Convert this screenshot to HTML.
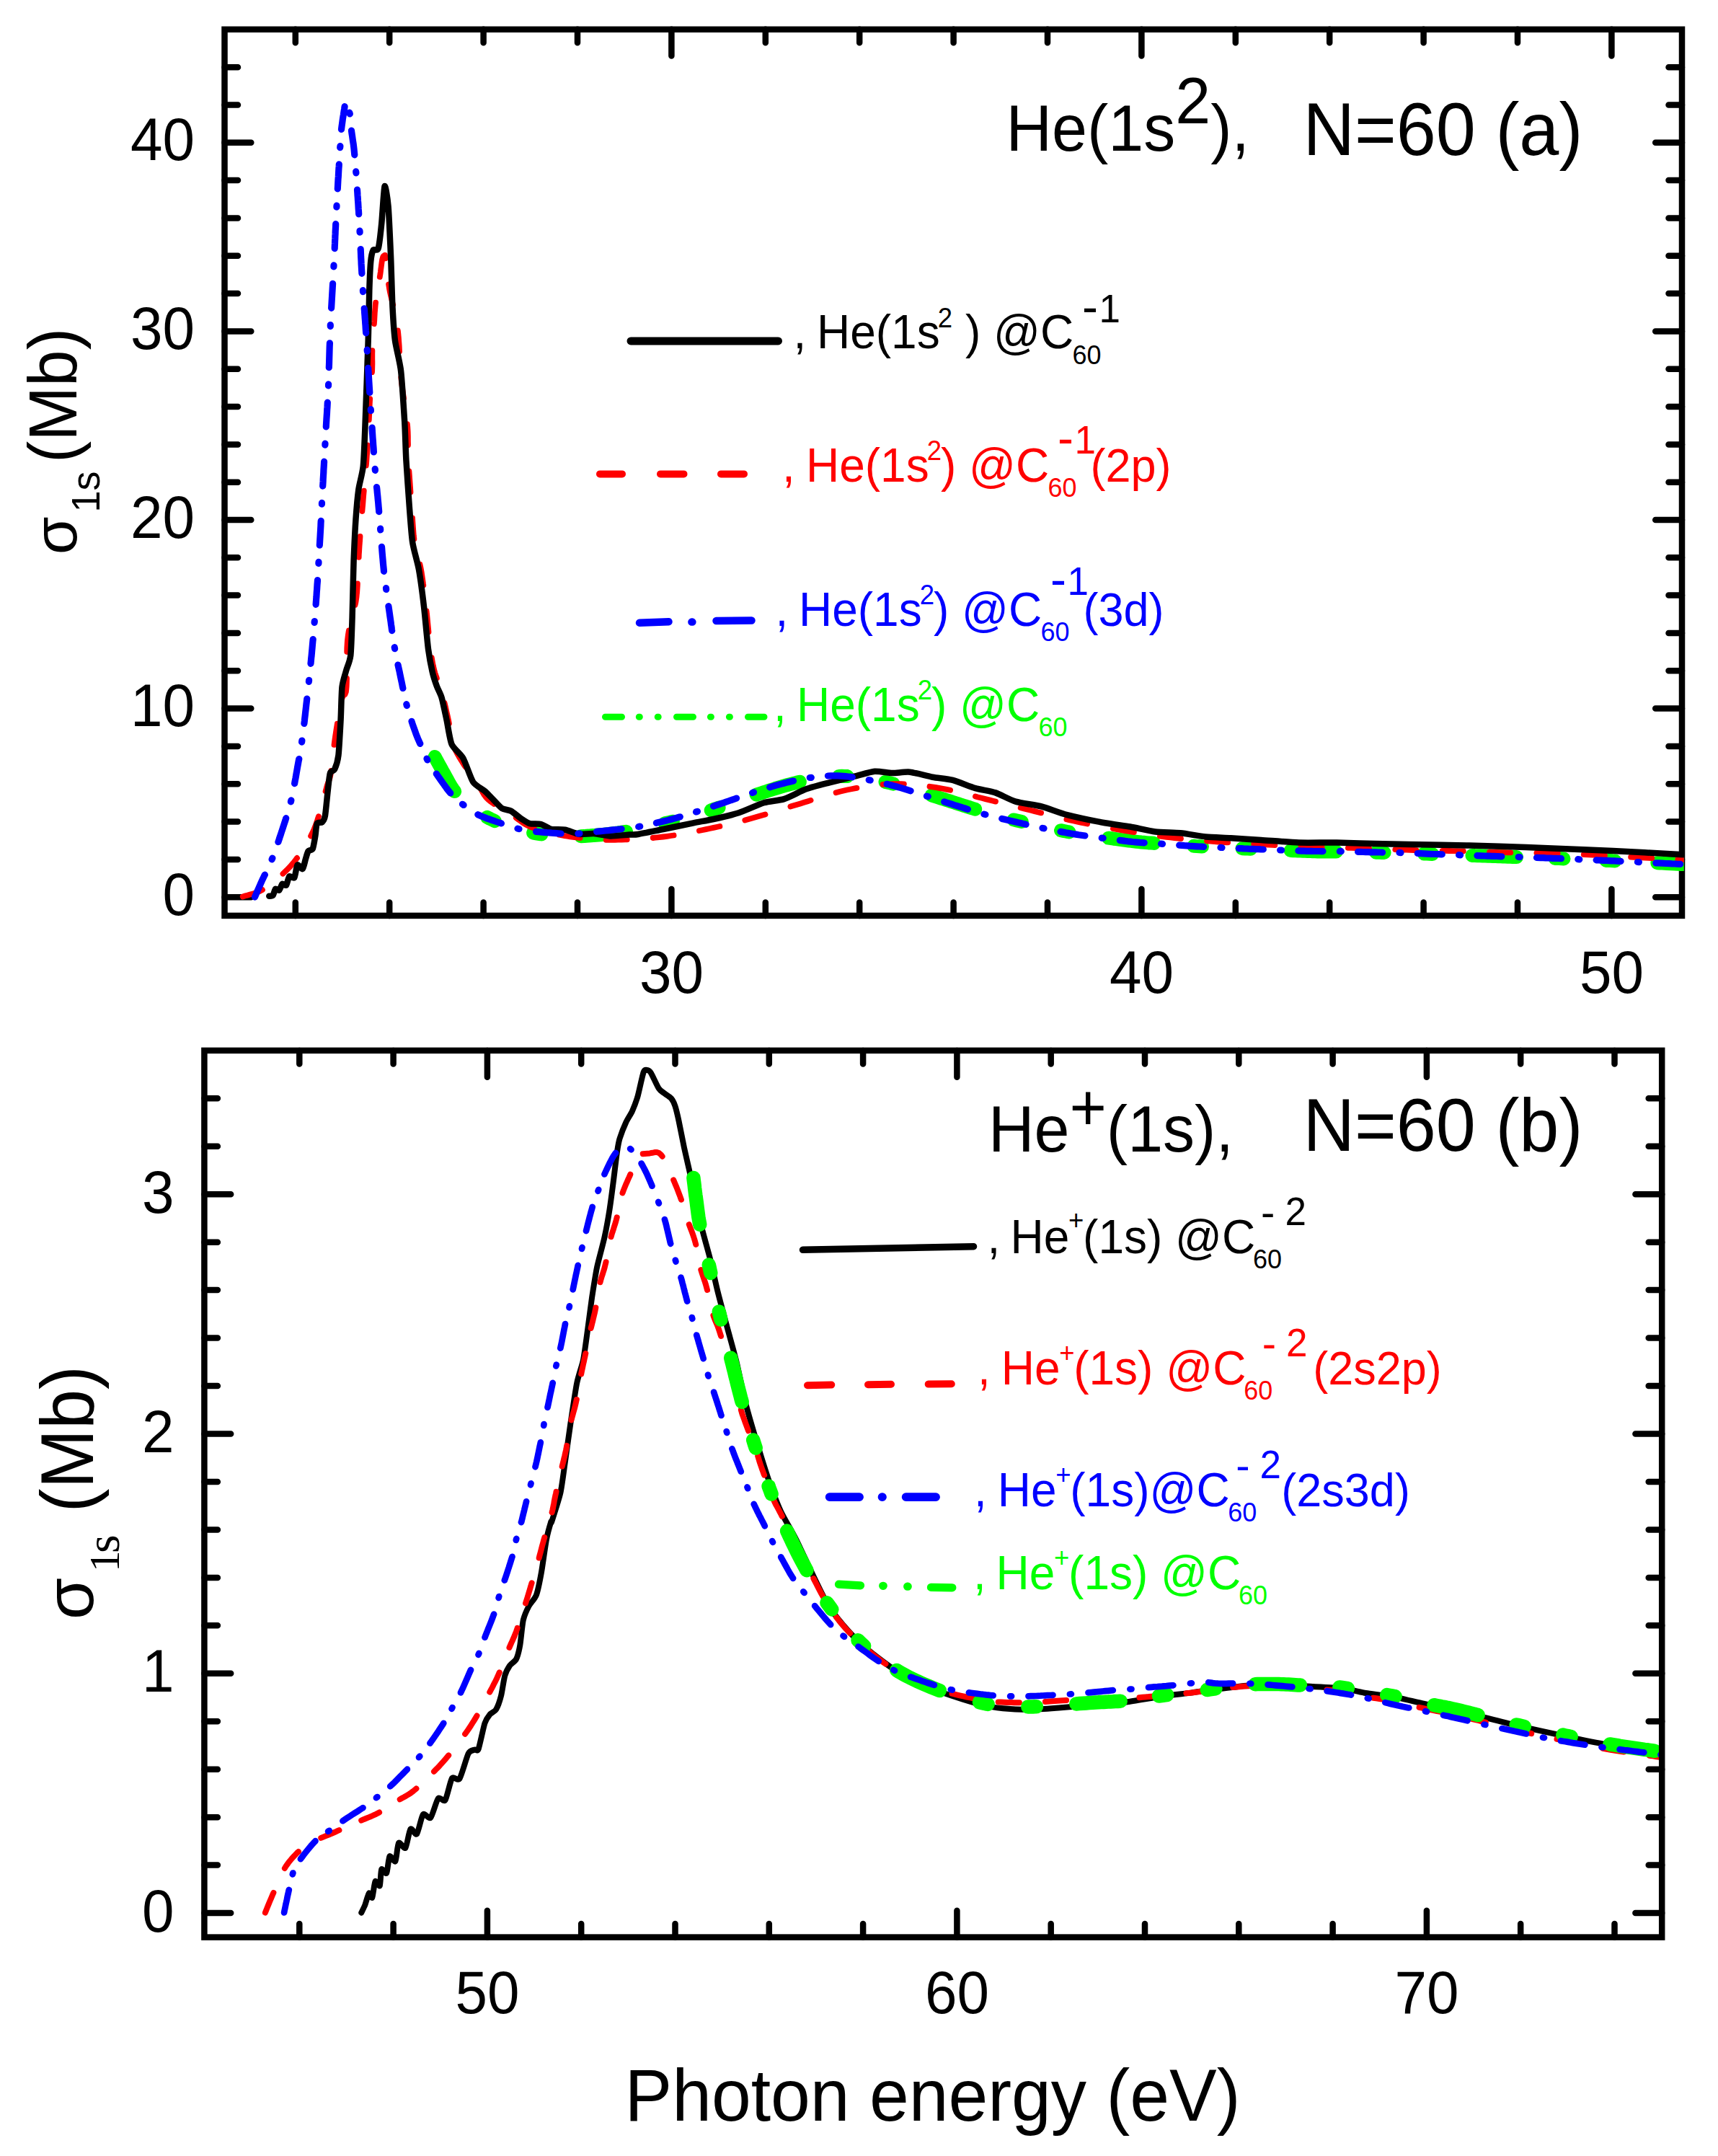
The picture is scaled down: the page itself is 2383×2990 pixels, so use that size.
<!DOCTYPE html>
<html lang="en"><head><meta charset="utf-8"><title>Photoionization cross sections</title>
<style>html,body{margin:0;padding:0;background:#fff}svg{display:block}text{font-family:"Liberation Sans", Arial, sans-serif}</style></head><body>
<svg width="2383" height="2990" viewBox="0 0 2383 2990">
<rect x="0" y="0" width="2383" height="2990" fill="#fff"/>
<defs>
<clipPath id="clipT"><rect x="311.5" y="40.8" width="2024.3" height="1229.1"/></clipPath>
<clipPath id="clipB"><rect x="283.4" y="1456.9" width="2018.6" height="1229.7"/></clipPath>
</defs>
<g stroke="#000" stroke-width="8.5" stroke-linecap="round" fill="none"><path d="M409.8,40.8 v18.5 M409.8,1269.9 v-18.5"/><path d="M540.2,40.8 v18.5 M540.2,1269.9 v-18.5"/><path d="M670.6,40.8 v18.5 M670.6,1269.9 v-18.5"/><path d="M801.0,40.8 v18.5 M801.0,1269.9 v-18.5"/><path d="M931.4,40.8 v36.8 M931.4,1269.9 v-36.8"/><path d="M1061.8,40.8 v18.5 M1061.8,1269.9 v-18.5"/><path d="M1192.2,40.8 v18.5 M1192.2,1269.9 v-18.5"/><path d="M1322.6,40.8 v18.5 M1322.6,1269.9 v-18.5"/><path d="M1453.0,40.8 v18.5 M1453.0,1269.9 v-18.5"/><path d="M1583.4,40.8 v36.8 M1583.4,1269.9 v-36.8"/><path d="M1713.8,40.8 v18.5 M1713.8,1269.9 v-18.5"/><path d="M1844.2,40.8 v18.5 M1844.2,1269.9 v-18.5"/><path d="M1974.6,40.8 v18.5 M1974.6,1269.9 v-18.5"/><path d="M2105.0,40.8 v18.5 M2105.0,1269.9 v-18.5"/><path d="M2235.4,40.8 v36.8 M2235.4,1269.9 v-36.8"/><path d="M311.5,1244.2 h36.8 M2333.0,1244.2 h-36.8"/><path d="M311.5,1191.9 h18.5 M2333.0,1191.9 h-18.5"/><path d="M311.5,1139.6 h18.5 M2333.0,1139.6 h-18.5"/><path d="M311.5,1087.2 h18.5 M2333.0,1087.2 h-18.5"/><path d="M311.5,1034.9 h18.5 M2333.0,1034.9 h-18.5"/><path d="M311.5,982.6 h36.8 M2333.0,982.6 h-36.8"/><path d="M311.5,930.3 h18.5 M2333.0,930.3 h-18.5"/><path d="M311.5,878.0 h18.5 M2333.0,878.0 h-18.5"/><path d="M311.5,825.6 h18.5 M2333.0,825.6 h-18.5"/><path d="M311.5,773.3 h18.5 M2333.0,773.3 h-18.5"/><path d="M311.5,721.0 h36.8 M2333.0,721.0 h-36.8"/><path d="M311.5,668.7 h18.5 M2333.0,668.7 h-18.5"/><path d="M311.5,616.4 h18.5 M2333.0,616.4 h-18.5"/><path d="M311.5,564.0 h18.5 M2333.0,564.0 h-18.5"/><path d="M311.5,511.7 h18.5 M2333.0,511.7 h-18.5"/><path d="M311.5,459.4 h36.8 M2333.0,459.4 h-36.8"/><path d="M311.5,407.1 h18.5 M2333.0,407.1 h-18.5"/><path d="M311.5,354.8 h18.5 M2333.0,354.8 h-18.5"/><path d="M311.5,302.4 h18.5 M2333.0,302.4 h-18.5"/><path d="M311.5,250.1 h18.5 M2333.0,250.1 h-18.5"/><path d="M311.5,197.8 h36.8 M2333.0,197.8 h-36.8"/><path d="M311.5,145.5 h18.5 M2333.0,145.5 h-18.5"/><path d="M311.5,93.2 h18.5 M2333.0,93.2 h-18.5"/></g>
<g stroke="#000" stroke-width="8.5" stroke-linecap="round" fill="none"><path d="M415.3,1456.9 v18.5 M415.3,2686.6 v-18.5"/><path d="M545.6,1456.9 v18.5 M545.6,2686.6 v-18.5"/><path d="M675.9,1456.9 v36.8 M675.9,2686.6 v-36.8"/><path d="M806.2,1456.9 v18.5 M806.2,2686.6 v-18.5"/><path d="M936.5,1456.9 v18.5 M936.5,2686.6 v-18.5"/><path d="M1066.8,1456.9 v18.5 M1066.8,2686.6 v-18.5"/><path d="M1197.1,1456.9 v18.5 M1197.1,2686.6 v-18.5"/><path d="M1327.4,1456.9 v36.8 M1327.4,2686.6 v-36.8"/><path d="M1457.7,1456.9 v18.5 M1457.7,2686.6 v-18.5"/><path d="M1588.0,1456.9 v18.5 M1588.0,2686.6 v-18.5"/><path d="M1718.3,1456.9 v18.5 M1718.3,2686.6 v-18.5"/><path d="M1848.6,1456.9 v18.5 M1848.6,2686.6 v-18.5"/><path d="M1978.9,1456.9 v36.8 M1978.9,2686.6 v-36.8"/><path d="M2109.2,1456.9 v18.5 M2109.2,2686.6 v-18.5"/><path d="M2239.5,1456.9 v18.5 M2239.5,2686.6 v-18.5"/><path d="M283.4,2653.1 h36.8 M2305.2,2653.1 h-36.8"/><path d="M283.4,2586.6 h18.5 M2305.2,2586.6 h-18.5"/><path d="M283.4,2520.2 h18.5 M2305.2,2520.2 h-18.5"/><path d="M283.4,2453.7 h18.5 M2305.2,2453.7 h-18.5"/><path d="M283.4,2387.3 h18.5 M2305.2,2387.3 h-18.5"/><path d="M283.4,2320.8 h36.8 M2305.2,2320.8 h-36.8"/><path d="M283.4,2254.3 h18.5 M2305.2,2254.3 h-18.5"/><path d="M283.4,2187.9 h18.5 M2305.2,2187.9 h-18.5"/><path d="M283.4,2121.4 h18.5 M2305.2,2121.4 h-18.5"/><path d="M283.4,2055.0 h18.5 M2305.2,2055.0 h-18.5"/><path d="M283.4,1988.5 h36.8 M2305.2,1988.5 h-36.8"/><path d="M283.4,1922.0 h18.5 M2305.2,1922.0 h-18.5"/><path d="M283.4,1855.6 h18.5 M2305.2,1855.6 h-18.5"/><path d="M283.4,1789.1 h18.5 M2305.2,1789.1 h-18.5"/><path d="M283.4,1722.7 h18.5 M2305.2,1722.7 h-18.5"/><path d="M283.4,1656.2 h36.8 M2305.2,1656.2 h-36.8"/><path d="M283.4,1589.7 h18.5 M2305.2,1589.7 h-18.5"/><path d="M283.4,1523.3 h18.5 M2305.2,1523.3 h-18.5"/></g>
<rect x="311.5" y="40.8" width="2021.5" height="1229.1" fill="none" stroke="#000" stroke-width="8.5"/>
<g clip-path="url(#clipT)">
<path d="M603.1,1049.5 L604.9,1052.9 L606.4,1055.6 L608.1,1058.7 L609.9,1062.0 L611.8,1065.4 L613.6,1068.8 L615.4,1072.0 L617.1,1075.0 L618.7,1078.0 L620.4,1081.0 L622.0,1084.0 L623.7,1087.1 L625.4,1090.0 L627.3,1092.9 L629.3,1095.8 L630.7,1097.6 M675.7,1133.4 L679.7,1135.5 L682.4,1136.8 L686.3,1138.6 M739.6,1155.1 L743.8,1155.8 L746.9,1156.3 L750.2,1156.8 L751.0,1156.9 M805.8,1159.8 L810.3,1159.6 L813.6,1159.3 L816.8,1159.1 L820.1,1158.8 L823.4,1158.6 L826.7,1158.3 L830.0,1158.0 L833.4,1157.7 L836.8,1157.4 L840.3,1157.0 L843.8,1156.6 L847.2,1156.2 L850.7,1155.8 L854.1,1155.3 L857.5,1154.9 L860.8,1154.4 L864.0,1153.9 L867.1,1153.5 L868.5,1153.2 M922.2,1141.8 L925.6,1141.0 L928.9,1140.3 L932.2,1139.5 L933.4,1139.2 M986.2,1123.7 L990.4,1122.3 L993.8,1121.2 L997.1,1120.1 M1049.1,1102.1 L1052.5,1101.0 L1055.8,1099.9 L1059.1,1098.8 L1062.5,1097.7 L1065.8,1096.6 L1069.2,1095.5 L1072.5,1094.5 L1075.9,1093.4 L1079.2,1092.4 L1082.6,1091.4 L1085.9,1090.4 L1089.3,1089.4 L1092.6,1088.5 L1096.0,1087.6 L1099.4,1086.7 L1102.7,1085.9 L1106.1,1085.0 L1109.4,1084.2 L1109.4,1084.2 M1163.8,1076.4 L1167.8,1076.3 L1171.2,1076.4 L1174.6,1076.4 L1175.1,1076.5 M1228.0,1084.4 L1231.8,1085.3 L1235.2,1086.1 L1238.5,1086.9 L1239.1,1087.1 M1292.2,1102.9 L1295.2,1103.9 L1298.4,1104.9 L1301.7,1106.0 L1305.1,1107.1 L1308.4,1108.1 L1311.7,1109.2 L1315.1,1110.3 L1318.5,1111.4 L1321.9,1112.5 L1325.2,1113.6 L1328.6,1114.6 L1332.0,1115.7 L1335.3,1116.8 L1338.7,1117.8 L1342.0,1118.9 L1345.3,1119.9 L1348.6,1121.0 L1352.0,1122.0 L1352.7,1122.3 M1406.1,1136.9 L1410.5,1138.0 L1413.9,1138.8 L1417.3,1139.6 L1417.4,1139.6 M1471.5,1151.7 L1474.7,1152.3 L1478.2,1153.0 L1481.7,1153.7 L1482.9,1153.9 M1537.7,1162.2 L1541.2,1162.7 L1544.7,1163.2 L1548.2,1163.6 L1551.7,1164.1 L1555.2,1164.6 L1558.7,1165.1 L1562.3,1165.5 L1565.8,1166.0 L1569.3,1166.4 L1572.7,1166.9 L1576.2,1167.3 L1579.7,1167.6 L1583.1,1168.0 L1586.5,1168.3 L1589.9,1168.6 L1593.2,1168.9 L1596.6,1169.1 L1599.9,1169.3 L1600.7,1169.4 M1655.9,1173.3 L1660.0,1173.6 L1663.5,1173.8 L1666.9,1174.0 L1667.5,1174.0 M1723.0,1176.7 L1727.2,1176.9 L1730.6,1177.1 L1733.9,1177.2 L1734.7,1177.3 M1790.2,1179.6 L1793.6,1179.7 L1797.0,1179.8 L1800.4,1180.0 L1803.8,1180.1 L1807.2,1180.2 L1810.5,1180.3 L1813.9,1180.5 L1817.3,1180.6 L1820.7,1180.7 L1824.1,1180.8 L1827.6,1180.9 L1831.0,1180.9 L1834.5,1181.0 L1838.0,1181.0 L1841.5,1181.0 L1845.0,1181.1 L1848.5,1181.1 L1852.0,1181.1 L1853.4,1181.1 M1908.6,1182.2 L1913.2,1182.3 L1916.6,1182.4 L1920.0,1182.4 L1920.1,1182.4 M1975.3,1183.9 L1979.0,1184.1 L1982.8,1184.2 L1986.8,1184.4 M2042.0,1186.4 L2045.6,1186.6 L2049.3,1186.7 L2052.9,1186.8 L2056.6,1187.0 L2060.2,1187.1 L2063.9,1187.2 L2067.4,1187.3 L2071.0,1187.5 L2074.5,1187.6 L2077.9,1187.7 L2081.3,1187.8 L2084.7,1187.9 L2088.1,1188.0 L2091.5,1188.2 L2094.8,1188.3 L2098.2,1188.4 L2101.6,1188.5 L2103.5,1188.6 M2157.2,1190.4 L2162.9,1190.6 L2166.3,1190.8 L2169.0,1190.9 M2227.8,1193.4 L2233.3,1193.6 L2236.8,1193.8 L2240.1,1193.9 M2298.8,1196.8 L2302.3,1197.0 L2305.6,1197.1 L2308.8,1197.3 L2311.9,1197.4 L2317.7,1197.7 L2323.0,1198.0 L2327.5,1198.2 L2331.4,1198.4 L2334.9,1198.5 L2337.9,1198.7 L2341.7,1198.8 L2344.7,1198.9 L2347.8,1199.0 L2350.9,1199.2 L2352.0,1199.2" fill="none" stroke="#00ff00" stroke-width="19.0" stroke-linecap="round" stroke-linejoin="round"/>
<path d="M336.7,1243.4 L340.4,1242.3 L343.5,1241.6 L346.9,1240.6 L350.6,1239.6 L354.4,1238.3 L358.2,1236.9 L361.8,1235.2 L364.0,1234.0 M392.4,1211.7 L394.7,1209.5 L397.2,1207.2 L399.6,1204.8 L402.0,1202.3 L404.3,1199.7 L406.7,1196.9 L409.2,1193.8 L411.7,1190.3 L412.0,1190.0 M431.1,1159.4 L432.8,1156.0 L434.3,1152.9 L435.6,1150.0 L436.8,1147.1 L437.9,1144.2 L439.0,1141.0 L440.2,1137.5 L441.5,1133.4 L441.9,1132.2 M451.6,1097.2 L452.5,1094.0 L453.3,1091.0 L454.4,1087.4 L455.5,1084.2 L456.7,1081.3 L457.7,1078.2 L458.5,1074.7 L459.1,1070.8 L459.4,1069.0 M463.5,1032.9 L463.9,1029.8 L464.5,1025.4 L465.1,1021.1 L465.8,1016.6 L466.5,1011.8 L467.3,1006.9 L467.8,1003.8 M474.5,968.1 L475.9,964.9 L478.5,963.0 L479.9,959.5 L480.4,955.4 L480.7,951.6 L480.9,946.9 L481.0,941.7 L481.0,940.6 M481.2,904.0 L481.3,898.6 L481.6,893.2 L481.9,888.5 L482.4,884.3 L482.9,880.3 L483.5,876.6 L483.9,874.5 M492.6,838.9 L493.4,835.4 L493.9,832.1 L494.5,828.1 L494.8,824.8 L495.2,821.0 L495.5,816.7 L495.8,811.9 L495.9,809.5 M497.7,772.9 L497.8,769.3 L498.2,763.6 L498.5,758.1 L498.9,752.7 L499.3,747.3 L499.5,743.9 M502.4,709.0 L502.8,704.2 L503.3,698.8 L503.7,693.5 L504.1,688.1 L504.6,682.7 L504.8,680.7 M507.8,645.7 L508.1,642.4 L508.5,637.3 L508.8,632.4 L509.2,627.6 L509.5,622.9 L509.8,618.2 L509.8,617.4 M511.8,582.3 L512.0,578.1 L512.2,574.4 L512.3,570.5 L512.4,567.4 L512.6,563.6 L512.8,559.9 L513.0,556.3 L513.2,553.2 M516.0,516.2 L516.2,512.9 L516.3,508.7 L516.4,504.9 L516.4,501.2 L516.3,497.7 L516.3,494.2 L516.3,490.6 L516.4,486.8 L516.4,486.2 M518.9,449.1 L519.2,445.2 L519.4,441.5 L519.6,437.8 L519.8,434.2 L520.1,430.5 L520.4,426.9 L520.7,423.0 L521.1,419.6 M526.8,384.0 L527.4,380.4 L527.9,376.7 L528.3,373.1 L528.8,369.7 L529.2,366.6 L529.7,362.8 L530.2,359.7 L531.1,356.5 L531.8,355.3" fill="none" stroke="#ff0000" stroke-width="7.8" stroke-linecap="round" stroke-linejoin="round"/>
<path d="M534.0,354.0 L534.4,357.6 L534.5,358.4 M539.1,394.3 L539.7,398.2 L540.3,401.8 L541.0,405.4 L541.8,408.9 L542.6,412.4 L543.4,415.9 L544.2,419.3 L545.0,422.7 L545.1,422.8 M551.8,458.3 L552.2,461.5 L552.6,465.6 L552.9,468.6 L553.1,471.9 L553.4,475.6 L553.7,479.5 L553.9,483.6 L554.1,487.4 M556.3,523.4 L556.7,527.3 L557.1,530.8 L557.5,534.3 L558.0,537.7 L558.4,541.0 L558.9,544.3 L559.3,547.5 L559.7,550.7 L560.0,552.4 M564.9,588.1 L565.3,592.0 L565.5,595.2 L565.7,598.5 L565.8,601.8 L565.9,605.2 L565.9,608.6 L565.9,612.1 L566.0,615.7 L566.0,617.3 M567.4,653.3 L567.8,658.4 L568.2,664.0 L568.6,669.6 L569.0,675.3 L569.4,681.0 L569.5,682.5 M572.1,718.5 L572.3,722.3 L572.6,726.5 L572.9,730.7 L573.2,734.7 L573.5,738.7 L573.8,742.6 L574.3,746.4 L574.4,747.6 M582.5,782.7 L583.3,786.4 L584.0,790.0 L584.7,793.8 L585.3,797.8 L585.9,801.9 L586.5,806.1 L587.1,810.4 L587.3,811.5 M591.6,847.4 L592.1,851.6 L592.6,856.7 L593.1,861.9 L593.6,867.1 L594.1,872.2 L594.5,876.4 M598.8,912.2 L599.4,915.6 L600.1,919.4 L600.8,923.0 L601.6,926.4 L602.4,929.7 L603.3,933.1 L604.3,936.2 L605.6,939.7 L605.9,940.5 M616.6,974.9 L617.4,978.1 L618.2,981.7 L619.0,985.3 L619.8,988.8 L620.6,992.2 L621.3,995.4 L622.0,998.5 L622.6,1001.7 L622.9,1003.4 M630.8,1038.5 L632.3,1041.5 L634.0,1044.7 L635.8,1047.8 L637.3,1050.5 L639.1,1053.4 L641.0,1056.4 L642.9,1059.5 L644.9,1062.5 L645.7,1063.6 M666.4,1093.2 L668.0,1096.2 L669.8,1099.5 L671.9,1102.8 L674.1,1105.8 L676.8,1108.5 L679.8,1111.1 L682.3,1112.9 L684.9,1114.6 L685.2,1114.9 M715.8,1134.1 L718.7,1136.3 L721.3,1138.2 L723.9,1140.1 L726.6,1141.9 L729.4,1143.6 L732.2,1145.1 L735.0,1146.5 L737.9,1147.6 L740.8,1148.6 L740.9,1148.6 M775.8,1157.7 L779.6,1158.5 L783.2,1159.1 L787.0,1159.7 L790.8,1160.3 L794.8,1160.9 L798.9,1161.4 L803.2,1161.9 L804.7,1162.0 M840.7,1164.8 L845.2,1164.9 L849.0,1164.9 L853.1,1164.8 L857.5,1164.7 L862.2,1164.6 L867.2,1164.4 L869.8,1164.3 M905.7,1162.0 L908.9,1161.7 L914.4,1161.1 L919.9,1160.5 L925.3,1159.8 L930.7,1159.0 L934.6,1158.5 M969.9,1152.0 L973.8,1151.2 L979.2,1150.1 L984.5,1149.0 L989.8,1147.9 L995.1,1146.7 L998.4,1146.0 M1033.3,1137.4 L1036.8,1136.4 L1042.1,1135.0 L1047.3,1133.6 L1052.5,1132.1 L1057.8,1130.6 L1061.5,1129.5 M1096.4,1118.6 L1099.7,1117.6 L1105.0,1116.0 L1110.2,1114.4 L1115.4,1112.8 L1120.6,1111.2 L1124.6,1109.9 M1159.6,1099.2 L1165.1,1097.7 L1170.4,1096.5 L1175.8,1095.3 L1181.2,1094.2 L1186.7,1093.2 L1188.4,1092.9 M1224.6,1087.9 L1228.4,1087.6 L1233.9,1087.3 L1239.4,1087.1 L1244.8,1087.1 L1250.3,1087.1 L1253.9,1087.3 M1289.5,1090.8 L1293.4,1091.4 L1298.7,1092.2 L1304.0,1093.1 L1309.3,1094.0 L1314.6,1095.1 L1318.1,1095.8 M1352.9,1104.5 L1356.4,1105.5 L1361.7,1106.8 L1366.9,1108.1 L1372.1,1109.4 L1377.4,1110.7 L1381.0,1111.6 M1415.7,1120.3 L1419.3,1121.2 L1424.5,1122.5 L1429.8,1123.8 L1435.1,1125.1 L1440.4,1126.5 L1444.1,1127.4 M1479.4,1136.3 L1482.9,1137.1 L1488.2,1138.3 L1493.6,1139.5 L1499.0,1140.7 L1504.4,1141.8 L1508.1,1142.5 M1543.9,1149.2 L1548.0,1149.9 L1553.5,1150.9 L1558.9,1151.8 L1564.3,1152.7 L1569.7,1153.6 L1572.9,1154.1 M1608.9,1159.6 L1612.6,1160.1 L1618.1,1160.8 L1623.5,1161.5 L1629.0,1162.1 L1634.5,1162.7 L1638.0,1163.1 M1674.0,1166.3 L1678.9,1166.7 L1684.4,1167.1 L1689.9,1167.5 L1695.3,1167.9 L1700.8,1168.3 L1703.2,1168.4 M1739.2,1170.5 L1743.8,1170.7 L1749.1,1171.0 L1754.5,1171.3 L1759.9,1171.6 L1765.2,1171.9 L1768.4,1172.1 M1804.5,1173.9 L1808.2,1174.1 L1813.7,1174.3 L1819.1,1174.5 L1824.6,1174.7 L1830.1,1174.9 L1833.7,1175.0 M1869.9,1175.8 L1874.5,1175.9 L1880.0,1176.0 L1885.5,1176.2 L1891.0,1176.4 L1896.4,1176.6 L1899.1,1176.7 M1935.3,1178.2 L1939.8,1178.3 L1945.2,1178.5 L1950.6,1178.7 L1956.0,1178.9 L1961.4,1179.0 L1964.5,1179.1 M2000.7,1179.8 L2004.5,1179.8 L2009.9,1180.0 L2015.3,1180.1 L2020.7,1180.2 L2026.1,1180.4 L2029.9,1180.5 M2066.1,1181.7 L2069.1,1181.8 L2074.5,1182.0 L2079.9,1182.1 L2085.3,1182.2 L2090.7,1182.3 L2095.3,1182.4 M2131.4,1182.9 L2136.4,1183.0 L2141.9,1183.1 L2147.3,1183.3 L2152.8,1183.4 L2158.3,1183.6 L2160.7,1183.7 M2196.8,1185.1 L2202.4,1185.3 L2207.9,1185.6 L2213.5,1185.8 L2219.0,1186.1 L2224.7,1186.4 L2226.0,1186.5 M2262.1,1188.6 L2266.4,1188.8 L2271.6,1189.1 L2276.7,1189.4 L2281.7,1189.7 L2286.8,1189.9 L2291.3,1190.1 M2327.3,1191.8 L2331.4,1192.0 L2334.4,1192.1 L2337.4,1192.3 L2340.0,1192.4" fill="none" stroke="#ff0000" stroke-width="7.8" stroke-linecap="round" stroke-linejoin="round"/>
<path d="M373.3,1242.7 C373.9,1242.6 377.6,1242.7 378.6,1241.6 C379.6,1240.5 381.1,1233.7 382.1,1232.9 C383.1,1232.1 386.2,1235.4 387.3,1234.6 C388.4,1233.8 390.4,1226.7 391.5,1225.9 C392.6,1225.1 396.0,1228.8 397.1,1227.6 C398.2,1226.4 400.0,1216.6 401.3,1215.4 C402.6,1214.2 407.0,1219.0 408.3,1217.2 C409.6,1215.4 411.2,1201.1 412.5,1199.7 C413.8,1198.3 418.5,1206.0 419.8,1205.0 C421.1,1204.0 423.1,1193.9 424.0,1191.0 C424.9,1188.1 426.4,1182.1 427.5,1180.5 C428.6,1178.9 432.7,1179.5 433.8,1177.0 C434.9,1174.5 436.6,1163.6 437.3,1159.5 C438.0,1155.4 438.6,1144.3 439.7,1142.1 C440.8,1139.9 445.4,1141.5 446.7,1140.3 C448.0,1139.1 450.0,1136.7 450.9,1131.6 C451.8,1126.5 453.9,1103.6 454.7,1096.7 C455.5,1089.8 456.8,1075.7 457.9,1072.2 C459.0,1068.7 462.8,1069.8 464.1,1067.0 C465.4,1064.2 468.4,1055.8 469.4,1047.8 C470.4,1039.8 472.0,1009.1 472.6,998.0 C473.2,986.9 473.6,960.5 474.5,952.5 C475.4,944.5 479.0,934.3 480.4,929.2 C481.8,924.1 485.3,917.4 486.3,908.9 C487.3,900.4 488.1,871.8 488.6,856.5 C489.1,841.2 490.0,793.9 490.6,777.9 C491.2,761.9 492.7,731.2 493.5,719.7 C494.3,708.2 496.1,687.5 497.3,679.0 C498.5,670.5 502.6,657.3 503.7,646.9 C504.8,636.5 505.7,610.3 506.5,590.0 C507.3,569.7 510.0,494.4 510.7,472.5 C511.4,450.6 511.9,415.5 512.3,402.7 C512.7,389.9 513.6,369.6 514.2,363.1 C514.8,356.6 516.5,349.0 517.7,346.8 C518.9,344.6 523.3,348.9 524.7,344.5 C526.1,340.1 528.3,319.6 529.3,309.5 C530.3,299.4 532.4,261.0 533.5,258.3 C534.6,255.6 537.6,274.9 538.6,286.3 C539.6,297.7 541.4,339.8 542.1,356.1 C542.8,372.4 543.8,412.4 544.5,426.0 C545.2,439.6 546.6,462.2 548.0,472.5 C549.4,482.8 554.6,501.3 556.1,514.4 C557.6,527.5 560.3,570.6 561.2,585.0 C562.1,599.4 562.6,624.5 563.4,638.2 C564.2,651.9 566.8,689.0 567.8,702.2 C568.8,715.4 570.6,741.5 572.1,751.7 C573.6,761.9 579.0,779.0 580.9,789.5 C582.8,800.0 586.6,829.0 588.1,841.9 C589.6,854.8 592.6,889.6 594.0,900.1 C595.4,910.6 598.4,926.1 599.8,932.2 C601.2,938.3 604.5,947.9 606.0,952.0 C607.5,956.1 611.0,962.0 612.6,967.5 C614.2,973.0 618.0,991.4 619.6,998.9 C621.2,1006.4 623.9,1026.0 626.5,1032.1 C629.1,1038.2 638.8,1045.2 642.3,1051.3 C645.8,1057.4 652.7,1079.2 656.2,1084.5 C659.7,1089.8 668.7,1093.9 672.0,1096.7 C675.3,1099.5 681.4,1106.1 684.2,1108.9 C687.0,1111.7 693.6,1119.3 696.4,1121.1 C699.2,1122.9 705.5,1123.0 708.6,1124.6 C711.7,1126.2 719.5,1133.1 722.6,1135.1 C725.7,1137.1 731.5,1141.2 734.8,1142.1 C738.1,1143.0 747.0,1142.2 750.5,1143.1 C754.0,1144.0 760.6,1148.9 764.5,1149.8 C768.4,1150.7 779.2,1150.0 783.7,1150.8 C788.2,1151.6 798.2,1156.2 802.9,1156.8 C807.6,1157.4 818.8,1155.8 823.9,1156.1 C829.0,1156.4 840.9,1159.3 846.6,1159.5 C852.3,1159.7 868.3,1157.8 872.8,1157.5 C877.3,1157.2 879.4,1157.9 884.9,1157.0 C890.4,1156.1 910.9,1151.8 919.9,1150.0 C928.9,1148.2 953.7,1142.9 961.8,1141.3 C969.9,1139.7 982.4,1137.6 989.7,1136.0 C997.0,1134.4 1016.4,1129.9 1024.6,1127.3 C1032.8,1124.7 1052.3,1115.5 1059.6,1113.3 C1066.9,1111.1 1080.6,1110.3 1087.5,1108.1 C1094.4,1105.9 1111.6,1096.7 1118.9,1094.1 C1126.2,1091.5 1142.7,1087.4 1150.4,1085.4 C1158.1,1083.4 1178.0,1078.5 1185.3,1076.7 C1192.6,1074.9 1207.1,1070.2 1213.2,1069.7 C1219.3,1069.2 1232.0,1072.0 1237.7,1072.1 C1243.4,1072.2 1255.6,1070.0 1262.1,1070.7 C1268.6,1071.4 1286.6,1076.4 1293.5,1077.7 C1300.4,1079.0 1314.6,1080.1 1321.5,1081.9 C1328.4,1083.7 1346.0,1091.1 1352.9,1093.1 C1359.8,1095.1 1374.4,1097.2 1380.9,1099.4 C1387.4,1101.6 1401.3,1109.4 1408.8,1111.6 C1416.3,1113.8 1437.1,1116.4 1445.4,1118.6 C1453.7,1120.8 1470.1,1127.5 1480.3,1130.1 C1490.5,1132.7 1522.5,1139.4 1532.7,1141.3 C1542.9,1143.2 1559.4,1145.1 1567.6,1146.5 C1575.8,1147.9 1594.4,1152.5 1602.6,1153.5 C1610.8,1154.5 1629.4,1154.5 1637.5,1155.3 C1645.6,1156.1 1664.3,1159.7 1672.4,1160.5 C1680.5,1161.3 1698.3,1161.7 1707.3,1162.2 C1716.3,1162.7 1738.2,1164.3 1749.2,1165.0 C1760.2,1165.7 1789.4,1168.1 1801.6,1168.5 C1813.8,1168.9 1841.8,1168.3 1854.0,1168.5 C1866.2,1168.7 1889.6,1169.6 1906.4,1170.0 C1923.2,1170.4 1978.2,1171.3 1998.4,1171.7 C2018.6,1172.1 2061.9,1173.1 2079.9,1173.7 C2097.9,1174.3 2134.6,1175.8 2153.0,1176.5 C2171.4,1177.2 2216.7,1179.1 2237.4,1180.1 C2258.1,1181.1 2318.1,1184.3 2330.1,1184.9 C2342.1,1185.5 2338.8,1185.3 2340.0,1185.4" fill="none" stroke="#000" stroke-width="8.5" stroke-linecap="round" stroke-linejoin="round"/>
<path d="M353.5,1244.1 L354.7,1241.2 L356.2,1237.7 L357.5,1234.7 L358.9,1231.5 L360.4,1228.1 L361.9,1224.7 L363.4,1221.3 L365.1,1217.8 L366.8,1214.1 L367.4,1213.1 M377.1,1191.9 L377.9,1190.1 M385.9,1167.7 L387.0,1164.5 L388.1,1161.0 L389.3,1157.6 L390.4,1154.2 L391.5,1150.8 L392.6,1147.5 L393.7,1144.1 L394.8,1140.8 L395.9,1137.5 L396.7,1134.7 M403.4,1111.9 L403.9,1109.9 M408.6,1086.6 L409.3,1082.6 L410.0,1079.1 L410.6,1075.6 L411.2,1072.1 L411.8,1068.7 L412.4,1065.3 L413.0,1061.9 L413.6,1058.6 L414.2,1055.3 L414.8,1052.5 M418.6,1029.1 L418.9,1027.0 M421.9,1003.5 L422.3,1000.3 L422.7,996.4 L423.2,992.1 L423.7,987.4 L424.3,982.3 L424.9,976.7 L425.6,970.8 L425.8,969.0 M428.4,945.4 L428.6,943.3 M431.0,920.3 L431.4,916.2 L431.7,912.8 L432.1,909.4 L432.4,906.0 L432.7,902.7 L433.0,899.3 L433.3,895.9 L433.6,892.6 L433.9,889.2 L434.2,886.6 M436.1,863.4 L436.3,861.5 M438.1,838.3 L438.4,834.7 L438.6,831.3 L438.9,827.9 L439.1,824.5 L439.3,821.1 L439.6,817.7 L439.8,814.3 L440.0,810.9 L440.3,807.5 L440.5,804.5 M441.9,781.4 L442.0,779.4 M443.3,756.2 L443.5,753.2 L443.7,749.8 L443.9,746.4 L444.1,743.0 L444.3,739.6 L444.5,736.2 L444.7,732.8 L444.9,729.3 L445.0,725.9 L445.2,722.4 M446.4,699.2 L446.5,697.3 M447.7,674.1 L448.1,668.0 L448.2,664.7 L448.4,661.5 L448.6,658.3 L448.8,655.1 L448.9,651.9 L449.1,648.7 L449.3,645.5 L449.5,642.3 L449.6,640.2 M450.9,617.1 L451.0,615.1 M452.3,591.9 L452.6,586.4 L452.9,581.5 L453.2,576.9 L453.5,572.6 L453.7,568.4 L454.0,564.3 L454.2,560.2 L454.3,558.1 M455.5,534.9 L455.6,532.9 M456.3,509.7 L456.5,505.3 L456.6,501.8 L456.7,498.2 L456.8,494.6 L456.9,491.0 L457.0,487.4 L457.1,483.8 L457.2,480.2 L457.4,476.5 L457.4,475.8 M458.3,452.6 L458.3,450.6 M459.6,427.3 L459.8,424.0 L460.0,420.6 L460.2,417.1 L460.4,413.7 L460.6,410.2 L460.8,406.8 L461.0,403.4 L461.2,399.9 L461.4,396.5 L461.6,393.3 M462.9,369.9 L463.0,367.9 M464.2,344.6 L464.3,341.4 L464.5,337.9 L464.6,334.5 L464.8,331.0 L464.9,327.6 L465.1,324.2 L465.2,320.7 L465.4,317.3 L465.6,313.8 L465.7,310.6 M466.9,287.2 L467.0,285.2 M468.3,261.9 L468.6,256.6 L468.8,252.7 L469.0,248.9 L469.3,245.1 L469.5,241.3 L469.7,237.6 L469.9,233.9 L470.2,230.3 L470.3,227.9 M471.7,204.6 L471.9,202.6 M473.5,179.4 L474.0,175.4 L474.6,171.1 L475.0,168.1 L475.4,165.0 L475.9,161.9 L476.4,159.0 L477.0,154.8 L477.6,151.2 L478.1,147.7" fill="none" stroke="#0000ff" stroke-width="9.2" stroke-linecap="round" stroke-linejoin="round"/>
<path d="M484.8,156.1 L485.3,158.0 M487.5,181.1 L488.0,185.2 L488.6,188.8 L489.1,192.6 L489.7,196.7 L490.2,199.7 L490.6,203.0 L491.0,206.6 L491.4,210.7 L491.8,214.8 M493.7,237.9 L493.9,239.9 M495.5,263.1 L495.8,267.2 L496.0,271.0 L496.3,274.7 L496.5,278.5 L496.8,282.2 L497.0,285.9 L497.2,289.6 L497.5,293.2 L497.7,296.7 L497.7,297.0 M499.0,320.2 L499.1,322.2 M500.2,345.5 L500.5,351.9 L500.6,355.3 L500.8,358.8 L501.0,362.2 L501.1,365.7 L501.3,369.1 L501.5,372.6 L501.7,376.0 L501.9,379.3 M503.4,402.6 L503.5,404.6 M505.2,427.8 L505.5,431.1 L505.7,434.5 L506.0,438.0 L506.2,441.4 L506.5,444.8 L506.7,448.3 L507.0,451.7 L507.2,455.2 L507.4,458.6 L507.7,461.8 M509.2,485.1 L509.3,487.1 M510.7,510.4 L511.1,516.4 L511.3,519.9 L511.5,523.4 L511.7,526.8 L511.9,530.1 L512.1,533.4 L512.3,536.6 L512.5,539.6 L512.8,544.4 M514.3,567.7 L514.4,569.7 M516.1,593.0 L516.4,598.0 L516.7,602.5 L517.0,607.2 L517.4,612.0 L517.7,616.8 L518.1,621.7 L518.4,626.7 L518.4,627.0 M520.2,650.3 L520.4,652.3 M522.5,675.6 L522.9,678.7 L523.3,683.3 L523.8,687.9 L524.2,692.7 L524.7,697.6 L525.1,702.7 L525.6,708.0 L525.7,709.6 M527.6,733.0 L527.7,735.0 M529.5,758.3 L529.8,761.7 L530.0,764.8 L530.5,770.6 L531.0,776.0 L531.4,780.8 L531.8,785.1 L532.2,788.9 L532.5,792.3 L532.5,792.3 M535.5,815.6 L535.7,817.5 M538.9,840.7 L539.6,845.3 L540.1,848.9 L540.6,852.5 L541.1,856.0 L541.6,859.4 L542.1,862.8 L542.5,866.1 L543.0,869.4 L543.4,872.6 L543.7,874.6 M547.2,897.7 L547.6,899.7 M552.0,922.0 L552.7,925.3 L553.5,928.8 L554.3,932.3 L555.0,935.8 L555.7,939.2 L556.4,942.6 L557.1,945.8 L557.8,949.1 L558.4,952.3 L558.9,954.5 M563.8,976.7 L564.3,978.6 M571.0,1000.4 L572.1,1003.8 L573.1,1006.7 L574.6,1010.8 L575.9,1014.6 L577.1,1018.0 L578.3,1020.9 L579.7,1024.5 L581.1,1027.7 L582.5,1030.8 L582.8,1031.4 M592.0,1052.2 L592.9,1054.0 M605.3,1073.1 L607.1,1075.8 L609.4,1079.0 L611.5,1082.0 L613.5,1084.9 L615.5,1087.7 L617.5,1090.4 L619.4,1093.1 L621.3,1095.6 L623.3,1098.1 L624.8,1099.9 M641.5,1115.3 L643.1,1116.5 M662.8,1129.7 L665.7,1131.0 L669.8,1132.8 L672.7,1133.9 L675.8,1135.1 L678.9,1136.2 L682.1,1137.3 L685.3,1138.4 L688.4,1139.5 L691.4,1140.5 L695.4,1141.9 M718.0,1149.1 L720.0,1149.6 M743.5,1153.3 L747.5,1153.7 L752.1,1154.1 L755.3,1154.4 L758.6,1154.7 L762.0,1154.9 L765.3,1155.2 L768.6,1155.4 L771.8,1155.6 L774.8,1155.8 L778.1,1156.0 M801.9,1156.1 L803.9,1155.9 M827.6,1153.3 L831.3,1152.9 L835.4,1152.5 L839.6,1152.0 L844.0,1151.6 L848.3,1151.1 L852.5,1150.7 L856.6,1150.2 L860.5,1149.8 L862.1,1149.6 M885.7,1146.5 L887.7,1146.1 M910.4,1141.3 L913.5,1140.6 L916.9,1139.8 L920.2,1139.0 L923.5,1138.2 L926.7,1137.4 L929.9,1136.5 L933.1,1135.7 L936.2,1134.8 L939.4,1133.9 L942.6,1133.0 L943.3,1132.8 M965.5,1126.0 L967.4,1125.4 M989.5,1118.1 L993.6,1116.7 L997.0,1115.6 L1000.3,1114.4 L1003.7,1113.3 L1007.0,1112.2 L1010.4,1111.0 L1013.7,1109.8 L1017.1,1108.7 L1020.4,1107.5 L1021.6,1107.0 M1043.6,1099.5 L1045.5,1098.8 M1067.7,1091.8 L1070.6,1090.9 L1073.9,1089.9 L1077.3,1088.9 L1080.6,1088.0 L1084.0,1087.1 L1087.4,1086.2 L1090.7,1085.4 L1094.1,1084.5 L1097.4,1083.7 L1100.5,1083.0 M1123.3,1078.5 L1125.3,1078.3 M1148.4,1076.0 L1152.5,1075.9 L1155.8,1075.8 L1159.2,1075.9 L1162.6,1075.9 L1166.0,1076.1 L1169.5,1076.3 L1172.9,1076.6 L1176.4,1077.0 L1180.0,1077.4 L1182.3,1077.8 M1205.2,1081.7 L1207.2,1082.1 M1230.1,1087.3 L1233.2,1088.1 L1236.5,1089.0 L1239.8,1089.9 L1243.1,1090.8 L1246.4,1091.7 L1249.7,1092.6 L1252.9,1093.6 L1256.1,1094.6 L1259.3,1095.6 L1262.4,1096.6 L1263.1,1096.8 M1285.4,1104.1 L1287.3,1104.7 M1309.7,1111.9 L1313.2,1113.1 L1316.6,1114.1 L1320.0,1115.2 L1323.3,1116.3 L1326.7,1117.3 L1330.0,1118.4 L1333.3,1119.4 L1336.6,1120.5 L1340.0,1121.5 L1342.4,1122.3 M1364.9,1129.1 L1366.9,1129.6 M1389.7,1135.4 L1393.2,1136.2 L1396.7,1137.1 L1400.2,1137.9 L1403.6,1138.7 L1407.0,1139.5 L1410.3,1140.3 L1413.6,1141.1 L1416.8,1141.8 L1420.0,1142.6 L1423.1,1143.3 M1446.0,1148.4 L1448.0,1148.8 M1471.0,1153.4 L1475.0,1154.1 L1478.5,1154.8 L1482.0,1155.4 L1485.6,1156.0 L1489.0,1156.6 L1492.5,1157.1 L1496.0,1157.7 L1499.5,1158.2 L1503.0,1158.7 L1504.9,1159.0 M1528.2,1162.1 L1530.2,1162.3 M1553.3,1165.4 L1557.3,1165.9 L1560.7,1166.4 L1564.2,1166.8 L1567.7,1167.1 L1571.1,1167.5 L1574.5,1167.8 L1577.9,1168.1 L1581.2,1168.4 L1584.6,1168.6 L1587.2,1168.8 M1610.5,1170.2 L1612.5,1170.4 M1635.7,1172.2 L1639.2,1172.4 L1642.7,1172.7 L1646.2,1172.9 L1649.7,1173.2 L1653.2,1173.4 L1656.7,1173.6 L1660.2,1173.8 L1663.7,1174.0 L1667.2,1174.2 L1669.7,1174.3 M1693.0,1175.4 L1695.0,1175.5 M1718.3,1176.6 L1721.9,1176.7 L1725.2,1176.9 L1728.6,1177.0 L1731.9,1177.2 L1735.3,1177.3 L1738.7,1177.4 L1742.1,1177.6 L1745.5,1177.7 L1749.0,1177.9 L1752.3,1178.0 M1775.6,1179.0 L1777.6,1179.0 M1800.9,1179.9 L1805.3,1180.1 L1808.7,1180.2 L1812.1,1180.3 L1815.6,1180.4 L1819.0,1180.4 L1822.5,1180.5 L1826.0,1180.5 L1829.5,1180.5 L1833.0,1180.6 L1835.0,1180.6 M1858.3,1180.7 L1860.3,1180.7 M1883.6,1181.3 L1887.4,1181.4 L1890.9,1181.5 L1894.3,1181.6 L1897.8,1181.7 L1901.2,1181.8 L1904.6,1181.9 L1908.0,1181.9 L1911.3,1182.0 L1914.6,1182.0 L1917.6,1182.1 M1941.0,1182.5 L1943.0,1182.6 M1966.3,1183.5 L1970.8,1183.7 L1974.9,1183.9 L1979.4,1184.1 L1984.3,1184.3 L1989.7,1184.5 L1995.7,1184.7 L1998.8,1184.8 L2000.3,1184.9 M2023.6,1185.7 L2025.6,1185.8 M2048.9,1186.6 L2055.4,1186.8 L2059.0,1187.0 L2062.5,1187.1 L2065.9,1187.2 L2069.3,1187.3 L2072.7,1187.4 L2076.1,1187.5 L2079.5,1187.7 L2082.8,1187.8 L2082.9,1187.8 M2106.2,1188.5 L2108.2,1188.6 M2131.5,1189.4 L2137.1,1189.6 L2140.5,1189.7 L2144.0,1189.9 L2147.4,1190.0 L2150.9,1190.1 L2154.3,1190.3 L2157.8,1190.4 L2161.3,1190.5 L2164.8,1190.7 L2165.5,1190.7 M2188.8,1191.7 L2190.8,1191.8 M2214.1,1192.8 L2217.8,1193.0 L2221.3,1193.1 L2224.8,1193.3 L2228.2,1193.4 L2231.7,1193.6 L2235.2,1193.8 L2238.8,1193.9 L2242.4,1194.1 L2246.1,1194.3 L2248.1,1194.4 M2271.4,1195.5 L2273.4,1195.6 M2296.7,1196.8 L2299.9,1196.9 L2305.7,1197.2 L2311.0,1197.5 L2315.5,1197.7 L2319.4,1197.9 L2322.9,1198.0 L2325.9,1198.2 L2329.7,1198.3 L2330.6,1198.4" fill="none" stroke="#0000ff" stroke-width="9.2" stroke-linecap="round" stroke-linejoin="round"/>
</g>
<g clip-path="url(#clipB)">
<path d="M501.3,2652.5 C501.9,2651.2 505.3,2644.5 506.5,2641.3 C507.7,2638.2 510.6,2626.8 511.8,2625.6 C512.9,2624.5 515.3,2633.5 516.3,2631.6 C517.3,2629.6 519.3,2611.1 520.5,2609.2 C521.7,2607.3 525.8,2617.1 526.8,2615.1 C527.8,2613.2 528.1,2594.5 529.2,2592.4 C530.3,2590.4 534.9,2599.8 536.2,2597.7 C537.5,2595.6 539.0,2576.2 540.4,2574.3 C541.8,2572.4 547.0,2583.4 548.4,2581.3 C549.9,2579.1 551.3,2557.9 553.0,2555.8 C554.6,2553.6 560.5,2565.0 562.4,2562.8 C564.3,2560.5 567.5,2538.8 569.4,2536.6 C571.2,2534.3 576.1,2545.9 578.1,2543.5 C580.2,2541.2 584.6,2519.0 586.8,2516.3 C589.1,2513.7 594.9,2523.5 597.3,2520.8 C599.8,2518.2 605.4,2496.8 607.8,2494.0 C610.2,2491.1 615.3,2499.7 617.6,2496.4 C619.8,2493.1 624.7,2469.5 627.0,2466.0 C629.3,2462.5 634.8,2470.7 637.5,2466.7 C640.1,2462.7 647.3,2436.5 649.7,2431.8 C652.2,2427.1 656.8,2427.3 658.4,2426.5 C660.1,2425.8 662.0,2429.8 663.7,2425.5 C665.3,2421.2 670.6,2395.5 672.4,2389.9 C674.2,2384.3 677.6,2379.9 679.4,2377.7 C681.2,2375.4 686.3,2373.7 688.1,2370.7 C690.0,2367.6 693.7,2357.0 695.1,2351.5 C696.5,2346.0 698.9,2328.4 700.4,2323.5 C701.8,2318.6 705.5,2312.2 707.3,2309.5 C709.2,2306.9 714.4,2304.1 716.1,2300.8 C717.7,2297.6 720.2,2287.9 721.3,2281.6 C722.4,2275.3 724.4,2253.0 725.8,2246.7 C727.3,2240.4 731.4,2231.5 733.5,2227.5 C735.6,2223.4 742.0,2217.3 744.0,2211.8 C746.0,2206.3 749.4,2189.3 751.0,2180.3 C752.6,2171.4 756.4,2143.1 758.0,2134.9 C759.5,2126.8 763.4,2113.4 764.3,2110.5 C765.1,2107.6 763.7,2114.8 765.3,2110.1 C766.8,2105.3 775.2,2080.1 777.5,2069.9 C779.7,2059.7 782.8,2034.0 784.5,2022.8 C786.1,2011.6 789.6,1986.1 791.4,1973.9 C793.3,1961.6 798.1,1928.2 800.2,1918.0 C802.2,1907.8 807.3,1894.3 808.9,1886.6 C810.5,1878.8 812.7,1861.8 814.1,1851.6 C815.6,1841.4 819.5,1810.2 821.1,1799.2 C822.8,1788.2 826.1,1767.1 828.1,1757.3 C830.2,1747.6 836.6,1724.8 838.6,1715.4 C840.6,1706.1 844.2,1686.0 845.6,1677.0 C847.0,1668.0 849.6,1648.0 850.8,1638.6 C852.0,1629.2 855.0,1603.6 856.1,1596.7 C857.1,1589.8 858.1,1583.9 859.5,1579.2 C861.0,1574.5 866.2,1561.0 868.3,1556.5 C870.3,1552.0 875.1,1545.1 877.0,1540.8 C878.9,1536.5 882.9,1526.2 884.7,1519.8 C886.5,1513.5 891.1,1490.8 892.7,1486.7 C894.4,1482.5 897.4,1484.0 898.7,1484.2 C899.9,1484.4 901.5,1485.5 903.2,1488.4 C905.0,1491.4 911.6,1506.2 913.7,1509.4 C915.7,1512.6 918.6,1514.0 920.7,1515.7 C922.7,1517.3 929.3,1521.2 931.1,1523.3 C933.0,1525.5 935.2,1530.2 936.4,1533.8 C937.6,1537.5 940.2,1548.3 941.6,1554.8 C943.0,1561.3 946.8,1581.1 948.6,1589.7 C950.4,1598.3 955.3,1619.2 957.3,1628.1 C959.4,1637.1 964.2,1658.0 966.1,1666.5 C967.9,1675.1 970.8,1692.1 973.1,1701.5 C975.3,1710.8 982.6,1736.3 985.3,1746.9 C987.9,1757.5 992.9,1780.9 995.8,1792.3 C998.6,1803.7 1006.7,1833.2 1009.7,1844.6 C1012.8,1856.1 1019.1,1878.2 1021.9,1890.1 C1024.8,1901.9 1031.1,1933.7 1034.2,1945.9 C1037.2,1958.2 1044.5,1982.6 1048.1,1994.8 C1051.8,2007.0 1061.5,2038.9 1065.6,2050.7 C1069.7,2062.5 1078.6,2086.3 1083.1,2096.1 C1087.5,2105.9 1096.4,2119.3 1104.0,2134.5 C1111.7,2149.7 1138.5,2209.6 1148.7,2226.2 C1158.9,2242.8 1180.3,2266.4 1191.5,2277.1 C1202.7,2287.8 1231.2,2309.8 1244.5,2317.9 C1257.8,2326.0 1291.8,2341.1 1305.6,2346.6 C1319.4,2352.0 1352.6,2361.9 1362.6,2364.5 C1372.6,2367.2 1383.3,2368.5 1391.2,2369.2 C1399.0,2370.0 1420.8,2371.0 1429.9,2370.9 C1438.9,2370.8 1457.9,2369.3 1468.6,2368.5 C1479.3,2367.7 1510.6,2365.0 1521.5,2364.1 C1532.5,2363.2 1551.8,2361.9 1562.3,2360.6 C1572.7,2359.2 1600.7,2354.0 1611.2,2352.5 C1621.6,2351.0 1644.1,2348.6 1651.9,2347.6 C1659.8,2346.6 1669.2,2345.1 1678.5,2343.9 C1687.8,2342.7 1720.6,2338.2 1731.5,2337.4 C1742.4,2336.5 1762.7,2336.4 1772.2,2336.6 C1781.7,2336.7 1802.5,2338.0 1813.0,2338.6 C1823.4,2339.2 1852.4,2340.4 1861.9,2341.5 C1871.4,2342.5 1886.4,2346.6 1894.5,2348.0 C1902.5,2349.3 1921.6,2351.1 1931.1,2352.9 C1940.6,2354.6 1966.0,2360.9 1976.0,2363.0 C1985.9,2365.2 2007.2,2369.1 2016.7,2371.2 C2026.2,2373.3 2047.0,2378.8 2057.4,2381.4 C2067.9,2384.0 2093.0,2390.5 2106.3,2393.6 C2119.7,2396.7 2157.3,2404.9 2171.5,2407.9 C2185.8,2410.9 2213.4,2416.7 2228.6,2419.3 C2243.8,2421.9 2291.5,2428.7 2301.9,2430.3 C2312.4,2431.8 2316.3,2432.4 2318.2,2432.7" fill="none" stroke="#000" stroke-width="8.0" stroke-linecap="round" stroke-linejoin="round"/>
<path d="M367.9,2652.5 L369.0,2649.7 L370.2,2646.8 L371.5,2643.5 L373.0,2639.9 L374.6,2636.0 L376.3,2632.1 L377.9,2628.2 L379.4,2624.8 M394.9,2591.0 L396.5,2588.3 L398.4,2585.6 L400.2,2583.1 L402.7,2580.0 L405.1,2577.2 L407.5,2574.5 L409.9,2572.0 L412.1,2569.6 L414.0,2567.9 M445.3,2548.9 L448.9,2547.4 L452.5,2545.9 L455.3,2544.7 L458.2,2543.5 L461.3,2542.2 L464.6,2540.8 L468.1,2539.2 L470.4,2538.2 M501.2,2524.6 L504.4,2523.2 L507.9,2521.8 L511.4,2520.4 L514.8,2519.0 L518.2,2517.4 L521.7,2515.8 L525.2,2513.9 L526.1,2513.4 M554.7,2495.4 L557.5,2493.8 L560.9,2492.0 L564.1,2490.1 L567.4,2488.1 L570.1,2486.3 L572.9,2484.2 L575.9,2481.7 L577.4,2480.4 M602.0,2456.8 L604.6,2454.1 L607.2,2451.4 L609.8,2448.7 L612.3,2445.9 L614.8,2443.1 L617.4,2440.2 L620.0,2437.0 L622.2,2434.4 M645.1,2404.8 L647.3,2401.7 L649.4,2398.7 L651.4,2395.7 L653.4,2392.7 L655.3,2389.7 L657.4,2386.4 L659.5,2382.9 L661.5,2379.4 M679.3,2346.6 L681.3,2342.9 L683.0,2339.8 L684.5,2336.7 L686.1,2333.7 L687.7,2330.5 L689.3,2327.2 L690.9,2323.5 L692.7,2319.5 L692.7,2319.5 M706.5,2284.9 L707.9,2281.7 L709.2,2278.6 L710.6,2275.6 L711.9,2272.6 L713.3,2269.5 L714.6,2266.1 L716.1,2262.4 L717.6,2258.2 L717.7,2257.8 M729.0,2223.4 L730.2,2219.8 L731.2,2216.6 L732.1,2213.6 L733.0,2210.6 L733.9,2207.6 L734.9,2204.3 L735.9,2200.8 L737.1,2196.9 L737.6,2195.3 M747.7,2160.5 L748.5,2157.2 L749.5,2153.7 L750.4,2150.3 L751.2,2146.9 L752.1,2143.5 L753.1,2140.0 L754.1,2136.2 L755.3,2132.2 L755.3,2132.2 M765.6,2097.4 L766.4,2094.1 L767.1,2090.8 L767.7,2087.7 L768.3,2084.7 L768.8,2081.5 L769.5,2078.2 L770.2,2074.7 L771.1,2070.8 L771.5,2068.7 M779.7,2033.5 L780.7,2029.6 L781.6,2026.0 L782.4,2022.5 L783.3,2018.9 L784.1,2015.2 L785.0,2011.4 L785.8,2007.4 L786.2,2004.9 M792.5,1969.3 L793.3,1966.2 L794.3,1962.6 L795.3,1959.0 L796.3,1955.5 L797.3,1951.9 L798.2,1948.1 L799.1,1944.2 L799.8,1941.0 M806.2,1905.4 L806.9,1901.9 L807.6,1898.6 L808.3,1895.3 L809.0,1892.0 L809.8,1888.6 L810.5,1885.1 L811.4,1881.3 L812.2,1877.3 L812.3,1877.0 M819.7,1841.8 L820.5,1838.7 L821.4,1835.1 L822.3,1831.6 L823.1,1828.0 L824.0,1824.4 L824.9,1820.6 L825.7,1816.7 L826.3,1813.5 M832.5,1778.2 L833.5,1774.5 L834.5,1771.1 L835.6,1767.8 L836.6,1764.5 L837.7,1761.2 L838.7,1757.6 L839.6,1753.8 L840.5,1750.2 M847.6,1715.2 L848.6,1711.6 L849.7,1708.2 L850.8,1705.0 L851.8,1701.7 L852.9,1698.3 L854.0,1694.8 L855.0,1691.0 L855.7,1688.3 M863.5,1654.5 L864.8,1650.9 L866.3,1647.1 L867.8,1643.4 L869.4,1639.8 L870.9,1636.3 L872.4,1633.1 L873.8,1630.0 L874.3,1628.7 M891.7,1600.2 L894.9,1599.9 L897.9,1599.7 L901.3,1599.4 L904.7,1598.8 L908.0,1598.1 L911.2,1598.0 L914.1,1599.0 L916.7,1601.2 L918.6,1603.7 M934.2,1636.4 L935.5,1639.5 L937.0,1643.1 L938.6,1646.9 L940.1,1650.8 L941.6,1654.7 L943.1,1658.7 L944.5,1662.6 L944.9,1663.7 M955.8,1698.2 L957.1,1701.7 L958.4,1705.0 L959.7,1708.3 L960.9,1711.7 L962.1,1715.1 L963.2,1718.6 L964.3,1722.4 L965.2,1725.8 M972.3,1761.1 L973.4,1764.7 L974.5,1768.0 L975.6,1771.3 L976.7,1774.6 L977.9,1778.0 L979.0,1781.5 L980.0,1785.3 L981.0,1789.0 M989.4,1824.2 L990.4,1827.1 L991.6,1830.1 L992.9,1833.1 L994.2,1836.2 L995.6,1839.6 L997.0,1843.5 L998.0,1846.5 L999.1,1849.9 L1000.0,1852.9 M1010.2,1889.3 L1011.4,1893.8 L1012.6,1898.3 L1013.8,1902.7 L1015.0,1907.3 L1016.3,1912.0 L1017.6,1916.8 L1018.1,1918.9 M1027.9,1955.4 L1028.9,1959.0 L1029.9,1962.2 L1031.0,1965.2 L1032.3,1968.7 L1033.7,1972.6 L1035.2,1976.7 L1036.4,1979.9 L1037.7,1983.4 L1038.0,1984.3 M1051.2,2019.4 L1052.1,2022.3 L1053.0,2025.3 L1053.9,2028.3 L1055.0,2031.6 L1056.2,2035.0 L1057.2,2037.9 L1058.4,2041.2 L1059.7,2044.8 L1060.1,2045.7 M1072.3,2077.9 L1073.5,2080.9 L1075.0,2084.3 L1076.4,2087.1 L1078.1,2090.1 L1079.7,2093.0 L1081.3,2096.1 L1083.2,2099.7 L1084.8,2102.8 M1100.7,2133.3 L1102.3,2136.3 L1103.7,2139.1 L1105.3,2142.1 L1106.9,2145.4 L1108.6,2148.8 L1110.3,2152.4 L1112.2,2156.2 L1113.2,2158.2 M1128.4,2189.1 L1130.5,2193.1 L1132.6,2197.3 L1134.7,2201.3 L1136.8,2205.3 L1138.8,2209.2 L1140.9,2212.9 L1141.3,2213.7 M1160.1,2242.8 L1162.9,2246.4 L1166.3,2250.7 L1169.7,2254.7 L1173.1,2258.6 L1176.6,2262.4 L1179.1,2264.9 M1205.3,2289.7 L1208.1,2292.0 L1212.4,2295.6 L1216.8,2299.0 L1221.3,2302.4 L1225.8,2305.7 L1228.4,2307.5 M1259.4,2325.9 L1264.4,2328.2 L1269.6,2330.5 L1274.8,2332.8 L1280.0,2334.9 L1285.2,2337.0 L1286.3,2337.4 M1320.5,2348.7 L1326.0,2350.1 L1331.1,2351.3 L1336.1,2352.4 L1341.1,2353.5 L1345.9,2354.4 L1349.0,2355.0 M1384.7,2360.4 L1388.5,2360.5 L1392.6,2360.7 L1397.0,2360.9 L1400.1,2361.0 L1403.3,2361.1 L1406.6,2361.2 L1409.9,2361.2 L1413.2,2361.3 L1413.9,2361.3 M1449.9,2359.9 L1453.0,2359.7 L1456.2,2359.4 L1459.6,2359.2 L1463.0,2359.0 L1466.7,2358.7 L1470.5,2358.5 L1474.6,2358.3 L1478.9,2358.1 L1479.1,2358.1 M1515.1,2356.4 L1519.5,2356.3 L1523.5,2356.1 L1527.2,2356.1 L1530.7,2356.0 L1534.1,2356.0 L1537.4,2356.0 L1540.6,2356.0 L1543.8,2356.0 L1544.3,2356.0 M1580.4,2354.2 L1584.6,2353.8 L1588.8,2353.4 L1593.1,2353.1 L1597.3,2352.7 L1601.4,2352.3 L1605.4,2351.9 L1609.3,2351.5 L1609.5,2351.5 M1645.4,2348.3 L1649.0,2347.9 L1653.3,2347.5 L1656.9,2347.0 L1659.9,2346.6 L1663.6,2346.0 L1667.2,2345.4 L1670.3,2345.0 L1674.0,2344.5 L1674.3,2344.4 M1710.2,2340.1 L1713.8,2339.7 L1718.5,2339.3 L1723.1,2338.8 L1727.4,2338.5 L1731.5,2338.2 L1735.3,2338.0 L1739.0,2337.9 L1739.3,2337.9 M1775.4,2338.6 L1778.9,2338.8 L1782.2,2339.0 L1785.5,2339.2 L1788.8,2339.5 L1792.1,2339.7 L1795.4,2340.0 L1798.8,2340.3 L1802.2,2340.6 L1804.5,2340.8 M1840.5,2343.5 L1844.4,2343.8 L1848.6,2344.2 L1852.6,2344.6 L1856.5,2345.0 L1860.1,2345.4 L1863.5,2345.9 L1866.7,2346.4 L1869.5,2347.0 M1904.7,2354.7 L1909.0,2355.3 L1912.0,2355.7 L1915.1,2356.2 L1918.2,2356.6 L1921.3,2357.1 L1924.5,2357.6 L1927.8,2358.2 L1931.1,2358.9 L1933.5,2359.4 M1968.6,2367.9 L1972.3,2368.7 L1976.0,2369.5 L1979.5,2370.3 L1983.0,2371.0 L1986.4,2371.7 L1989.8,2372.4 L1993.2,2373.0 L1996.6,2373.7 L1997.2,2373.8 M2032.4,2381.5 L2036.6,2382.5 L2039.9,2383.4 L2043.3,2384.3 L2046.7,2385.1 L2050.2,2386.0 L2053.8,2387.0 L2057.4,2387.9 L2060.7,2388.7 M2095.7,2397.6 L2099.4,2398.5 L2104.0,2399.6 L2108.8,2400.7 L2113.8,2401.8 L2119.0,2403.0 L2124.2,2404.2 M2159.5,2411.8 L2163.7,2412.7 L2169.0,2413.8 L2174.1,2414.9 L2178.9,2415.9 L2183.7,2416.9 L2188.0,2417.9 M2223.4,2424.9 L2228.6,2425.8 L2234.3,2426.7 L2237.4,2427.2 L2240.5,2427.7 L2243.8,2428.2 L2247.1,2428.8 L2250.5,2429.3 L2252.3,2429.5 M2288.0,2434.7 L2292.8,2435.4 L2297.8,2436.2 L2301.9,2436.8 L2305.3,2437.3 L2309.3,2437.9 L2312.9,2438.4 L2316.1,2438.9 L2316.9,2439.0" fill="none" stroke="#ff0000" stroke-width="8.0" stroke-linecap="round" stroke-linejoin="round"/>
<path d="M961.9,1633.4 L962.3,1636.9 L962.8,1640.6 L963.3,1644.7 L963.6,1647.8 L964.0,1650.9 L964.4,1654.1 L964.8,1657.3 L965.3,1660.5 L965.7,1663.6 L966.3,1667.9 L966.8,1672.0 L967.3,1675.9 L967.8,1679.8 L968.3,1683.8 L968.9,1688.0 L969.4,1691.0 L970.0,1694.3 L970.6,1697.7 L970.7,1698.2 M983.3,1754.0 L984.0,1757.2 L985.1,1762.3 L985.8,1765.4 M997.3,1819.0 L998.2,1823.0 L999.4,1828.0 L999.9,1830.1 M1013.7,1883.2 L1014.5,1886.5 L1015.9,1891.8 L1017.2,1897.2 L1018.6,1902.7 L1019.9,1908.2 L1021.3,1913.7 L1022.7,1919.3 L1024.1,1924.8 L1025.5,1930.2 L1026.9,1935.6 L1028.2,1940.8 L1029.2,1944.3 M1044.7,1997.0 L1045.6,2000.0 L1047.2,2005.0 L1048.2,2008.1 M1066.1,2061.0 L1067.1,2063.9 L1069.0,2068.9 L1070.1,2072.0 M1091.6,2123.1 L1092.9,2125.9 L1095.0,2130.5 L1097.2,2135.1 L1099.4,2139.8 L1101.7,2144.5 L1104.0,2149.2 L1106.3,2153.8 L1108.6,2158.4 L1111.0,2163.0 L1113.4,2167.5 L1115.8,2171.9 L1118.2,2176.3 L1118.9,2177.6 M1147.0,2222.8 L1150.3,2227.3 L1153.4,2231.5 L1153.8,2232.0 M1190.0,2274.7 L1193.5,2278.0 L1197.6,2281.8 L1198.6,2282.7 M1243.7,2316.4 L1246.9,2318.3 L1251.7,2321.1 L1256.7,2323.8 L1261.8,2326.5 L1267.0,2329.0 L1272.2,2331.5 L1277.4,2333.8 L1282.6,2336.1 L1287.8,2338.3 L1293.0,2340.5 L1298.1,2342.5 L1303.1,2344.5 L1303.3,2344.5 M1358.5,2360.7 L1362.6,2361.7 L1366.0,2362.5 L1368.9,2363.1 L1370.1,2363.4 M1425.8,2367.0 L1429.9,2367.0 L1433.0,2366.9 L1436.1,2366.8 L1437.5,2366.8 M1492.8,2362.9 L1497.3,2362.6 L1501.9,2362.2 L1506.5,2361.9 L1511.1,2361.6 L1515.4,2361.3 L1519.5,2361.0 L1523.5,2360.8 L1527.2,2360.5 L1530.7,2360.4 L1534.1,2360.2 L1537.4,2360.1 L1540.6,2359.9 L1543.8,2359.8 L1546.9,2359.6 L1550.2,2359.4 L1553.5,2359.2 L1554.2,2359.2 M1607.5,2352.0 L1611.2,2351.5 L1614.9,2351.0 L1618.6,2350.6 L1618.8,2350.5 M1674.3,2343.5 L1678.5,2342.9 L1682.1,2342.4 L1685.9,2341.9 M1741.1,2335.8 L1744.3,2335.6 L1747.7,2335.5 L1751.0,2335.5 L1754.3,2335.4 L1757.5,2335.4 L1760.7,2335.4 L1764.0,2335.4 L1767.2,2335.5 L1770.5,2335.5 L1773.9,2335.6 L1777.3,2335.7 L1780.6,2335.8 L1783.9,2335.9 L1787.2,2336.1 L1790.4,2336.3 L1793.8,2336.5 L1797.1,2336.7 L1800.5,2336.9 L1803.5,2337.0 M1857.9,2340.0 L1861.9,2340.5 L1865.1,2340.9 L1868.2,2341.3 L1869.3,2341.5 M1923.7,2350.6 L1927.8,2351.3 L1931.1,2351.9 L1934.6,2352.5 L1935.1,2352.6 M1989.0,2364.7 L1993.2,2365.5 L1996.6,2366.1 L1999.9,2366.8 L2003.3,2367.4 L2006.6,2368.1 L2010.0,2368.7 L2013.3,2369.5 L2016.7,2370.2 L2020.1,2371.0 L2023.4,2371.8 L2026.7,2372.6 L2030.0,2373.4 L2033.3,2374.2 L2036.6,2375.0 L2039.9,2375.9 L2043.3,2376.8 L2046.7,2377.6 L2050.1,2378.5 M2103.2,2391.9 L2106.3,2392.6 L2111.2,2393.7 L2114.3,2394.4 M2167.9,2406.1 L2171.5,2406.9 L2176.5,2407.9 L2179.1,2408.5 M2232.9,2419.0 L2237.4,2419.7 L2240.5,2420.2 L2243.8,2420.7 L2247.1,2421.3 L2250.5,2421.8 L2253.9,2422.3 L2257.4,2422.8 L2260.9,2423.3 L2264.3,2423.8 L2267.8,2424.3 L2271.2,2424.8 L2274.6,2425.3 L2277.9,2425.8 L2281.1,2426.3 L2284.2,2426.7 L2287.2,2427.1 L2292.8,2427.9 L2295.2,2428.3" fill="none" stroke="#00ff00" stroke-width="19.5" stroke-linecap="round" stroke-linejoin="round"/>
<path d="M394.1,2652.5 L394.8,2648.8 L395.6,2645.1 L396.5,2640.7 L397.2,2637.6 L397.9,2634.4 L398.5,2631.2 L399.2,2628.0 L399.9,2625.0 L400.8,2620.9 L400.8,2620.9 M405.8,2599.3 L406.4,2597.5 M416.9,2578.1 L418.9,2575.5 L421.2,2572.4 L423.8,2569.1 L426.6,2565.6 L429.4,2562.2 L432.2,2558.9 L435.0,2555.8 L437.5,2553.2 M455.1,2539.9 L456.7,2538.8 M475.4,2525.3 L477.9,2523.6 L481.2,2521.4 L484.8,2519.1 L488.5,2516.7 L492.3,2514.3 L496.0,2512.0 L499.5,2509.7 L502.8,2507.5 L503.5,2507.1 M521.9,2493.2 L523.4,2492.0 M541.2,2477.4 L544.0,2474.8 L546.6,2472.3 L549.3,2469.6 L552.0,2466.9 L554.7,2464.1 L557.3,2461.4 L559.9,2458.8 L562.4,2456.2 L564.8,2453.8 L564.9,2453.7 M581.0,2437.2 L582.3,2435.7 M596.4,2417.6 L598.5,2414.7 L600.9,2411.4 L603.3,2407.9 L605.7,2404.3 L608.2,2400.7 L610.5,2397.2 L612.8,2393.8 L614.8,2390.6 L615.3,2389.8 M626.5,2369.8 L627.5,2368.0 M639.0,2347.4 L640.3,2344.6 L642.1,2340.8 L643.9,2336.8 L645.1,2334.1 L646.3,2331.3 L647.5,2328.5 L648.7,2325.7 L650.4,2321.7 L652.1,2317.9 L653.0,2315.9 M663.5,2294.8 L664.4,2292.9 M672.5,2270.8 L673.9,2267.2 L675.4,2263.5 L676.9,2259.5 L678.6,2255.4 L680.3,2251.2 L681.9,2247.1 L683.4,2243.1 L684.8,2239.3 L685.1,2238.7 M691.6,2216.0 L692.2,2214.0 M699.8,2191.7 L701.2,2187.7 L702.5,2183.8 L703.9,2179.6 L704.8,2176.7 L705.8,2173.8 L706.7,2170.9 L707.6,2168.1 L708.9,2163.9 L710.1,2160.0 L710.5,2158.9 M715.8,2135.9 L716.3,2133.9 M722.9,2111.1 L723.2,2110.7 L723.5,2109.4 L724.5,2105.4 L725.4,2101.6 L726.4,2097.4 L727.2,2094.3 L727.9,2091.3 L728.7,2088.2 L729.4,2085.3 L730.1,2082.3 M736.0,2059.3 L736.5,2057.3 M742.5,2034.3 L743.3,2030.9 L744.2,2027.3 L745.1,2023.2 L746.0,2018.9 L746.6,2016.0 L747.2,2013.1 L747.8,2010.1 L748.7,2005.7 L749.6,2001.6 L749.8,2000.4 M754.2,1977.0 L754.5,1975.0 M759.5,1951.8 L760.3,1948.2 L761.1,1944.3 L762.0,1940.1 L762.9,1935.7 L763.5,1932.7 L764.2,1929.8 L765.1,1925.4 L766.0,1921.3 L766.7,1917.8 M771.3,1894.5 L771.8,1892.6 M777.3,1869.7 L778.0,1866.5 L778.9,1862.3 L779.5,1859.3 L780.1,1856.2 L780.7,1853.1 L781.3,1849.9 L781.9,1846.8 L782.5,1843.7 L783.1,1840.8 L783.9,1836.7 L784.0,1836.1 M789.5,1813.3 L789.9,1811.3 M794.7,1788.3 L795.5,1784.5 L796.3,1780.5 L797.2,1776.2 L798.1,1771.8 L798.7,1768.8 L799.7,1764.4 L800.6,1760.2 L801.4,1756.3 L801.7,1754.8 M807.0,1731.9 L807.5,1729.9 M813.0,1707.1 L814.1,1702.9 L815.1,1698.8 L816.2,1694.4 L817.0,1691.5 L817.7,1688.5 L818.5,1685.6 L819.6,1681.3 L820.8,1677.2 L821.7,1673.9 M829.5,1651.8 L830.2,1649.9 M838.4,1628.5 L840.1,1624.8 L841.8,1621.2 L843.6,1617.4 L845.4,1613.6 L847.3,1609.9 L849.1,1606.5 L850.9,1603.4 L852.6,1600.9 L854.1,1598.9 M874.1,1593.1 L875.5,1594.4 M889.6,1613.5 L891.6,1617.0 L893.6,1620.7 L895.6,1624.7 L896.9,1627.4 L898.2,1630.2 L899.4,1633.0 L900.7,1635.8 L902.4,1639.9 L904.1,1643.8 L904.5,1644.8 M913.2,1666.9 L913.9,1668.8 M921.9,1691.1 L923.1,1695.2 L924.1,1699.1 L925.1,1703.4 L925.8,1706.3 L926.5,1709.3 L927.2,1712.3 L927.9,1715.2 L928.9,1719.5 L929.8,1723.5 L930.2,1724.8 M936.8,1747.6 L937.4,1749.6 M944.5,1771.7 L945.5,1775.0 L946.5,1779.1 L947.7,1783.4 L948.4,1786.3 L949.2,1789.3 L949.9,1792.3 L950.7,1795.2 L951.8,1799.4 L952.8,1803.3 L953.2,1804.6 M959.8,1827.0 L960.3,1828.9 M966.2,1851.5 L967.1,1854.6 L968.2,1858.3 L969.3,1862.3 L970.5,1866.4 L971.7,1870.6 L972.9,1874.7 L974.1,1878.7 L975.2,1882.5 L975.7,1884.2 M982.0,1906.6 L982.6,1908.5 M990.1,1930.6 L991.3,1934.4 L992.6,1938.3 L994.0,1942.5 L994.9,1945.4 L995.8,1948.3 L996.8,1951.2 L997.7,1954.1 L999.0,1958.2 L1000.2,1962.1 L1000.5,1963.0 M1007.7,1985.1 L1008.3,1987.0 M1015.4,2009.2 L1016.6,2012.3 L1018.0,2016.2 L1019.6,2020.3 L1020.7,2023.2 L1021.9,2026.0 L1023.0,2028.9 L1024.1,2031.7 L1025.8,2035.8 L1027.3,2039.6 L1027.8,2040.8 M1036.5,2062.4 L1037.2,2064.2 M1045.7,2085.9 L1047.5,2089.8 L1049.4,2093.6 L1050.7,2096.4 L1052.1,2099.1 L1053.5,2102.0 L1055.0,2104.8 L1056.4,2107.6 L1057.8,2110.3 L1059.8,2114.2 L1060.8,2116.3 M1071.1,2137.1 L1072.0,2138.9 M1083.2,2159.4 L1084.7,2162.2 L1086.7,2165.7 L1088.7,2169.4 L1090.8,2173.2 L1092.9,2177.0 L1095.0,2180.7 L1097.1,2184.2 L1099.2,2187.5 L1100.1,2188.9 M1114.3,2207.4 L1115.6,2208.9 M1130.1,2227.1 L1132.8,2230.4 L1135.4,2233.6 L1138.2,2236.9 L1141.0,2240.3 L1143.8,2243.6 L1146.6,2246.9 L1149.4,2250.0 L1152.0,2252.9 L1152.2,2253.1 M1169.5,2268.6 L1171.1,2269.8 M1190.5,2283.6 L1193.5,2285.8 L1196.7,2288.1 L1200.1,2290.6 L1203.5,2293.1 L1206.9,2295.7 L1210.3,2298.1 L1213.7,2300.5 L1216.9,2302.7 L1218.7,2303.9 M1239.2,2315.9 L1241.0,2316.8 M1263.1,2325.6 L1266.1,2326.7 L1270.1,2328.2 L1273.1,2329.2 L1276.1,2330.2 L1279.2,2331.3 L1282.4,2332.4 L1285.5,2333.5 L1288.6,2334.5 L1291.6,2335.5 L1295.8,2336.9 L1295.9,2336.9 M1318.8,2343.2 L1320.8,2343.6 M1343.9,2347.4 L1346.9,2347.8 L1351.0,2348.3 L1355.5,2348.9 L1358.6,2349.3 L1361.7,2349.7 L1364.8,2350.0 L1367.8,2350.4 L1370.8,2350.7 L1375.1,2351.2 L1377.7,2351.4 M1401.1,2352.3 L1403.1,2352.3 M1426.5,2352.3 L1429.6,2352.2 L1433.9,2352.1 L1436.9,2352.0 L1440.1,2351.8 L1443.3,2351.7 L1446.5,2351.5 L1449.6,2351.3 L1452.7,2351.2 L1457.2,2351.0 L1460.5,2350.8 M1483.9,2349.5 L1485.9,2349.4 M1509.5,2347.4 L1513.2,2347.1 L1517.5,2346.7 L1520.5,2346.4 L1523.5,2346.1 L1526.6,2345.8 L1529.7,2345.5 L1532.8,2345.2 L1537.2,2344.8 L1541.4,2344.4 L1543.8,2344.2 M1567.4,2342.6 L1569.5,2342.5 M1593.0,2340.1 L1596.7,2339.8 L1601.0,2339.4 L1605.5,2339.1 L1608.6,2338.8 L1611.7,2338.6 L1614.8,2338.3 L1617.8,2338.1 L1622.2,2337.7 L1626.2,2337.4 L1627.4,2337.3 M1650.9,2334.5 L1652.9,2334.3 M1676.2,2333.2 L1679.3,2333.6 L1682.5,2334.1 L1685.8,2334.5 L1689.6,2334.7 L1693.3,2334.8 L1697.6,2334.8 L1700.8,2334.8 L1704.2,2334.7 L1707.8,2334.7 L1710.1,2334.7 M1733.4,2334.8 L1735.3,2334.9 M1758.6,2336.4 L1762.0,2336.7 L1765.4,2337.0 L1768.8,2337.3 L1772.2,2337.6 L1775.6,2337.9 L1779.0,2338.2 L1782.3,2338.5 L1785.7,2338.8 L1789.0,2339.1 L1792.4,2339.4 L1792.4,2339.4 M1815.6,2342.0 L1817.6,2342.2 M1840.6,2345.2 L1845.1,2345.9 L1848.8,2346.4 L1852.5,2347.0 L1856.0,2347.5 L1859.5,2348.1 L1862.9,2348.6 L1866.2,2349.2 L1869.5,2349.8 L1872.7,2350.3 L1874.0,2350.6 M1896.8,2355.2 L1898.7,2355.6 M1921.3,2361.1 L1925.3,2362.1 L1928.7,2362.9 L1932.1,2363.7 L1935.6,2364.5 L1938.9,2365.3 L1942.3,2366.0 L1945.7,2366.8 L1949.1,2367.5 L1952.5,2368.2 L1954.3,2368.5 M1977.0,2373.2 L1979.0,2373.7 M2002.0,2378.7 L2005.2,2379.4 L2008.6,2380.1 L2011.9,2380.9 L2015.3,2381.7 L2018.7,2382.4 L2022.1,2383.2 L2025.5,2384.0 L2028.9,2384.7 L2032.3,2385.5 L2035.5,2386.3 M2058.5,2391.6 L2060.4,2392.0 M2083.4,2397.1 L2086.6,2397.8 L2090.0,2398.5 L2093.4,2399.3 L2096.8,2400.0 L2100.2,2400.8 L2103.6,2401.5 L2107.0,2402.3 L2110.4,2403.0 L2113.8,2403.8 L2117.0,2404.5 M2140.0,2409.5 L2142.0,2409.9 M2164.9,2414.2 L2168.1,2414.8 L2171.5,2415.3 L2174.9,2415.9 L2178.3,2416.5 L2181.7,2417.1 L2185.1,2417.6 L2188.5,2418.2 L2191.9,2418.7 L2195.2,2419.2 L2198.4,2419.7 M2221.5,2423.0 L2223.5,2423.3 M2246.6,2426.2 L2249.6,2426.5 L2253.2,2427.0 L2256.7,2427.4 L2260.2,2427.8 L2263.6,2428.3 L2266.9,2428.7 L2270.3,2429.1 L2273.6,2429.6 L2277.0,2430.0 L2280.3,2430.4 M2303.4,2433.5 L2305.4,2433.8" fill="none" stroke="#0000ff" stroke-width="8.7" stroke-linecap="round" stroke-linejoin="round"/>
</g>
<rect x="283.4" y="1456.9" width="2021.8" height="1229.7" fill="none" stroke="#000" stroke-width="8.5"/>
<text transform="translate(270.0 1268.7) scale(1 1.040)" font-size="80" text-anchor="end">0</text>
<text transform="translate(270.0 1007.1) scale(1 1.040)" font-size="80" text-anchor="end">10</text>
<text transform="translate(270.0 745.5) scale(1 1.040)" font-size="80" text-anchor="end">20</text>
<text transform="translate(270.0 483.9) scale(1 1.040)" font-size="80" text-anchor="end">30</text>
<text transform="translate(270.0 222.3) scale(1 1.040)" font-size="80" text-anchor="end">40</text>
<text transform="translate(931.4 1376.5) scale(1 1.040)" font-size="80" text-anchor="middle">30</text>
<text transform="translate(1583.4 1376.5) scale(1 1.040)" font-size="80" text-anchor="middle">40</text>
<text transform="translate(2235.4 1376.5) scale(1 1.040)" font-size="80" text-anchor="middle">50</text>
<text transform="translate(241.5 2678.6) scale(1 1.040)" font-size="80" text-anchor="end">0</text>
<text transform="translate(241.5 2346.3) scale(1 1.040)" font-size="80" text-anchor="end">1</text>
<text transform="translate(241.5 2014.0) scale(1 1.040)" font-size="80" text-anchor="end">2</text>
<text transform="translate(241.5 1681.7) scale(1 1.040)" font-size="80" text-anchor="end">3</text>
<text transform="translate(675.9 2791.5) scale(1 1.040)" font-size="80" text-anchor="middle">50</text>
<text transform="translate(1327.4 2791.5) scale(1 1.040)" font-size="80" text-anchor="middle">60</text>
<text transform="translate(1978.9 2791.5) scale(1 1.040)" font-size="80" text-anchor="middle">70</text>
<text transform="translate(866.5 2940.5) scale(1 1.040)" font-size="98.5" id="xlabel">Photon energy (eV)</text>
<g transform="translate(106,769) rotate(-90)" id="ylabT"><text transform="translate(0.0 0.0) scale(1 1.000)" font-size="85">σ</text><text transform="translate(58.5 32.0) scale(1 1.040)" font-size="54">1s</text><text transform="translate(127.0 0.0) scale(1 1.040)" font-size="91">(Mb)</text></g>
<g transform="translate(129,2246) rotate(-90)" id="ylabB"><text transform="translate(0.0 0.0) scale(1 1.000)" font-size="94">σ</text><text transform="translate(66.0 35.5) scale(1 1.000)" font-size="59" style="font-family:'Liberation Serif', 'Times New Roman', serif">1</text><text transform="translate(92.0 35.5) scale(1 1.000)" font-size="66" style="font-family:'Liberation Serif', 'Times New Roman', serif">s</text><text transform="translate(148.5 0.0) scale(1 1.040)" font-size="99">(Mb)</text></g>
<text transform="translate(1395.5 208.9) scale(1 1.040)" font-size="88" id="titA1">He(1s<tspan dy="-36.5">2</tspan><tspan dy="36.5">),</tspan></text>
<text transform="translate(1807.5 215.0) scale(1 1.040)" font-size="99" id="titA2">N=60 (a)</text>
<text transform="translate(1371.0 1597.1) scale(1 1.040)" font-size="88" id="titB1">He<tspan dy="-28.6">+</tspan><tspan dy="28.6">(1s),</tspan></text>
<text transform="translate(1807.5 1596.0) scale(1 1.040)" font-size="99" id="titB2">N=60 (b)</text>
<g fill="#000" id="legT1"><text transform="translate(1100.5 483.0) scale(1 1.040)" font-size="64">,</text><text transform="translate(1133.0 483.0) scale(1 1.040)" font-size="64">He(1s</text><text transform="translate(1300.8 453.5) scale(1 1.040)" font-size="36.5">2</text><text transform="translate(1339.0 483.0) scale(1 1.040)" font-size="64">) @C</text><text transform="translate(1487.5 504.5) scale(1 1.040)" font-size="36">60</text><text transform="translate(1501.0 447.8) scale(1 1.000)" font-size="66">-</text><text transform="translate(1524.5 446.8) scale(1 1.040)" font-size="53">1</text></g>
<g fill="#ff0000" id="legT2"><text transform="translate(1085.0 667.7) scale(1 1.040)" font-size="64">,</text><text transform="translate(1118.0 667.7) scale(1 1.040)" font-size="64">He(1s</text><text transform="translate(1285.8 638.2) scale(1 1.040)" font-size="36.5">2</text><text transform="translate(1305.0 667.7) scale(1 1.040)" font-size="64">) @C</text><text transform="translate(1453.5 689.2) scale(1 1.040)" font-size="36">60</text><text transform="translate(1467.0 629.9) scale(1 1.000)" font-size="66">-</text><text transform="translate(1490.5 628.9) scale(1 1.040)" font-size="53">1</text><text transform="translate(1512.5 667.7) scale(1 1.040)" font-size="63">(2p)</text></g>
<g fill="#0000ff" id="legT3"><text transform="translate(1075.5 867.7) scale(1 1.040)" font-size="64">,</text><text transform="translate(1108.0 867.7) scale(1 1.040)" font-size="64">He(1s</text><text transform="translate(1275.8 838.2) scale(1 1.040)" font-size="36.5">2</text><text transform="translate(1295.0 867.7) scale(1 1.040)" font-size="64">) @C</text><text transform="translate(1443.5 889.2) scale(1 1.040)" font-size="36">60</text><text transform="translate(1457.0 825.9) scale(1 1.000)" font-size="66">-</text><text transform="translate(1480.5 824.9) scale(1 1.040)" font-size="53">1</text><text transform="translate(1502.5 867.7) scale(1 1.040)" font-size="63">(3d)</text></g>
<g fill="#00ff00" id="legT4"><text transform="translate(1073.0 999.5) scale(1 1.040)" font-size="64">,</text><text transform="translate(1105.0 999.5) scale(1 1.040)" font-size="64">He(1s</text><text transform="translate(1272.8 970.0) scale(1 1.040)" font-size="36.5">2</text><text transform="translate(1292.0 999.5) scale(1 1.040)" font-size="64">) @C</text><text transform="translate(1440.5 1021.0) scale(1 1.040)" font-size="36">60</text></g>
<path d="M875,472.9 H1079.5" stroke="#000" stroke-width="11" stroke-linecap="round"/>
<path d="M832,657.4 h31 M916,657.4 h32.5 M1000,657.4 h32" stroke="#ff0000" stroke-width="10" stroke-linecap="round"/>
<path d="M887,863.7 L927.5,862.2 M959.4,862.6 h1 M993.5,861 L1042.5,860.6" stroke="#0000ff" stroke-width="10.5" stroke-linecap="round"/>
<path d="M839.5,994.2 h23 M886.3,994.2 h1 M912.2,994.2 h1 M938.5,994.2 h23 M985.4,994.2 h1 M1011.4,994.2 h1 M1037.5,994.2 h22.5" stroke="#00ff00" stroke-width="9" stroke-linecap="round"/>
<g fill="#000" id="legB1"><text transform="translate(1369.5 1737.7) scale(1 1.040)" font-size="64">,</text><text transform="translate(1401.6 1737.7) scale(1 1.040)" font-size="64">He</text><text transform="translate(1482.1 1705.2) scale(1 1.040)" font-size="36.5">+</text><text transform="translate(1502.1 1737.7) scale(1 1.040)" font-size="64">(1s) @C</text><text transform="translate(1738.1 1759.2) scale(1 1.040)" font-size="36">60</text><text transform="translate(1749.1 1701.3) scale(1 1.000)" font-size="58">-</text><text transform="translate(1782.4 1698.7) scale(1 1.040)" font-size="53">2</text></g>
<g fill="#ff0000" id="legB2"><text transform="translate(1356.0 1919.7) scale(1 1.040)" font-size="64">,</text><text transform="translate(1388.7 1919.7) scale(1 1.040)" font-size="64">He</text><text transform="translate(1469.2 1888.7) scale(1 1.040)" font-size="36.5">+</text><text transform="translate(1489.2 1919.7) scale(1 1.040)" font-size="64">(1s) @C</text><text transform="translate(1725.2 1941.2) scale(1 1.040)" font-size="36">60</text><text transform="translate(1750.8 1883.3) scale(1 1.000)" font-size="58">-</text><text transform="translate(1784.1 1880.7) scale(1 1.040)" font-size="53">2</text><text transform="translate(1821.2 1919.7) scale(1 1.040)" font-size="63">(2s2p)</text></g>
<g fill="#0000ff" id="legB3"><text transform="translate(1351.0 2088.7) scale(1 1.040)" font-size="64">,</text><text transform="translate(1383.8 2088.7) scale(1 1.040)" font-size="64">He</text><text transform="translate(1464.3 2057.7) scale(1 1.040)" font-size="36.5">+</text><text transform="translate(1484.3 2088.7) scale(1 1.040)" font-size="64">(1s)@C</text><text transform="translate(1703.3 2110.2) scale(1 1.040)" font-size="36">60</text><text transform="translate(1714.3 2052.3) scale(1 1.000)" font-size="58">-</text><text transform="translate(1747.6 2049.7) scale(1 1.040)" font-size="53">2</text><text transform="translate(1777.3 2088.7) scale(1 1.040)" font-size="63">(2s3d)</text></g>
<g fill="#00ff00" id="legB4"><text transform="translate(1350.0 2203.5) scale(1 1.040)" font-size="64">,</text><text transform="translate(1381.6 2203.5) scale(1 1.040)" font-size="64">He</text><text transform="translate(1462.1 2172.5) scale(1 1.040)" font-size="36.5">+</text><text transform="translate(1482.1 2203.5) scale(1 1.040)" font-size="64">(1s) @C</text><text transform="translate(1718.1 2225.0) scale(1 1.040)" font-size="36">60</text></g>
<path d="M1113.5,1733.3 L1350.5,1728.7" stroke="#000" stroke-width="9.5" stroke-linecap="round"/>
<path d="M1120,1921.2 L1153.3,1920.5 M1204,1920.2 L1236,1919.8 M1287.7,1919.6 L1319.8,1919.3" stroke="#ff0000" stroke-width="10" stroke-linecap="round"/>
<path d="M1150.6,2076.2 h41.5 M1223.5,2076.2 h0.5 M1256.6,2076.2 h41.5" stroke="#0000ff" stroke-width="11.7" stroke-linecap="round"/>
<path d="M1163.5,2197.2 L1193.5,2198.8 M1224.7,2199.3 h0.5 M1258.7,2200.2 h0.5 M1291.5,2201.4 L1320.8,2201.8" stroke="#00ff00" stroke-width="11.3" stroke-linecap="round"/>
</svg></body></html>
